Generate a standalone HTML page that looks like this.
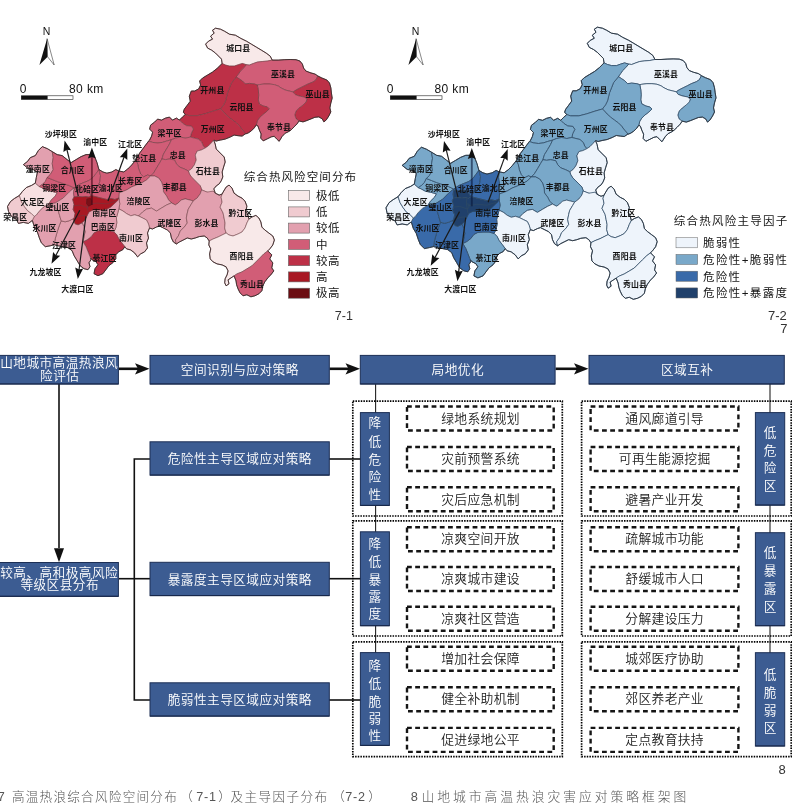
<!DOCTYPE html><html><head><meta charset="utf-8"><title>fig</title><style>
html,body{margin:0;padding:0;background:#fff}svg{display:block}
text{font-family:"Liberation Sans","Noto Sans CJK SC",sans-serif}
.ml{font-size:7.9px;font-weight:700;fill:#111;text-anchor:middle}
.bx{fill:#3c5c92;stroke:#1c2f55;stroke-width:1}
.bt{fill:#fff;font-size:12.7px;font-weight:350;text-anchor:middle}
.dt{fill:#222;font-size:12.8px;font-weight:350;text-anchor:middle}
.db{fill:#fff;stroke:#151515;stroke-width:2.4;stroke-dasharray:4.8 3.4}
.gp{fill:none;stroke:#000;stroke-width:1.7;stroke-dasharray:1.5 1.15}
.ln{stroke:#111;stroke-width:1.6;fill:none}
.lg{font-size:11.5px;fill:#151515;font-weight:400}
</style></head><body>
<svg width="792" height="806" viewBox="0 0 792 806">
<rect width="792" height="806" fill="#fff"/>
<g stroke="#6a3a40" stroke-width="0.55" stroke-linejoin="round">
<polygon points="215.5,28.2 220.5,29.2 224.5,31.2 229.4,34.2 235.4,35.2 240.4,38.1 246.3,41.1 251.3,44.1 256.3,47.1 261.3,50.1 266.2,53.1 270.2,56.1 272.2,60.1 267.2,61.1 262.3,61.5 257.3,62.1 253.3,63.5 249.3,65.1 246.3,64.7 242.4,63.5 238.4,64.7 234.4,66.1 229.4,66.1 225.5,65.1 222.1,63.5 221.5,59.1 218.5,56.1 215.5,53.1 211.5,50.1 207.6,48.1 205.6,44.1 208.6,41.1 212.5,39.1 210.6,36.2 214.1,33.2 212.5,30.2" fill="#f8e9e9"/>
<polygon points="246.3,64.7 249.3,65.1 253.3,63.5 257.3,62.1 262.3,61.5 267.2,61.1 272.2,60.1 278.2,60.1 284.1,59.7 290.1,59.5 296.1,59.7 300.0,61.1 302.4,64.1 303.6,68.1 306.0,71.1 310.0,72.6 314.9,74.0 317.9,76.0 315.9,80.0 313.0,82.0 308.0,84.0 304.0,86.0 300.0,88.0 296.1,90.0 293.1,92.0 289.1,91.0 285.1,90.0 281.1,88.0 278.2,86.0 274.2,84.6 269.2,84.0 264.2,84.0 259.3,84.6 257.3,85.0 254.3,84.0 249.3,83.4 245.4,84.0 242.4,81.0 239.4,79.0 236.4,77.0 235.4,78.0 238.4,74.0 240.4,71.1 243.4,68.1" fill="#d15d77"/>
<polygon points="317.9,76.0 321.9,78.0 326.9,80.0 329.5,83.0 330.9,88.0 331.4,93.0 332.2,98.0 330.9,103.0 329.9,107.9 330.9,111.9 328.9,115.9 326.3,119.9 323.9,121.9 322.3,118.9 318.9,116.9 314.9,117.3 311.0,118.9 307.0,120.5 303.0,121.9 299.0,120.9 296.1,118.9 294.7,114.9 296.1,110.9 299.0,107.9 303.0,105.0 306.0,102.0 307.0,99.0 304.0,97.0 299.0,96.0 295.1,94.6 293.1,92.0 296.1,90.0 300.0,88.0 304.0,86.0 308.0,84.0 313.0,82.0 315.9,80.0" fill="#bd3047"/>
<polygon points="257.3,85.0 259.3,84.6 264.2,84.0 269.2,84.0 274.2,84.6 278.2,86.0 281.1,88.0 285.1,90.0 289.1,91.0 293.1,92.0 295.1,94.6 299.0,96.0 304.0,97.0 307.0,99.0 306.0,102.0 303.0,105.0 299.0,107.9 296.1,110.9 294.7,114.9 296.1,118.9 299.0,120.9 297.0,123.9 294.1,126.9 291.1,129.9 288.1,131.9 285.1,133.3 282.1,136.5 279.2,141.3 276.6,138.9 274.2,136.3 271.2,136.9 267.2,138.9 263.2,140.9 260.7,138.1 261.1,133.9 259.3,129.9 257.9,125.9 256.3,124.9 257.3,120.9 259.3,117.9 262.3,114.9 266.2,111.9 269.2,108.9 267.2,106.9 263.2,106.0 259.3,104.0 258.3,100.0 258.7,95.0 258.3,90.0" fill="#d15d77"/>
<polygon points="235.4,78.0 236.4,77.0 239.4,79.0 242.4,81.0 245.4,84.0 249.3,83.4 254.3,84.0 257.3,85.0 258.3,90.0 258.7,95.0 258.3,100.0 259.3,104.0 263.2,106.0 267.2,106.9 269.2,108.9 266.2,111.9 262.3,114.9 259.3,117.9 257.3,120.9 256.3,124.9 254.3,127.9 251.3,130.9 248.3,132.9 245.7,133.9 242.4,129.9 239.4,125.9 236.4,122.9 232.4,119.9 228.4,116.9 225.1,113.9 222.5,110.9 220.5,108.9 223.5,105.0 225.5,101.0 226.5,97.0 227.5,93.0 229.4,88.0 231.4,83.0" fill="#bd3047"/>
<polygon points="222.1,63.5 225.5,65.1 229.4,66.1 234.4,66.1 238.4,64.7 242.4,63.5 246.3,64.7 243.4,68.1 240.4,71.1 238.4,74.0 235.4,78.0 231.4,83.0 229.4,88.0 227.5,93.0 226.5,97.0 225.5,101.0 223.5,105.0 220.5,108.9 213.1,111.1 205.2,113.7 197.2,115.7 189.3,115.7 185.3,114.5 183.3,112.1 184.3,109.1 187.3,105.2 190.3,101.2 189.3,96.2 191.3,91.0 194.6,91.0 198.6,89.0 200.6,85.0 199.6,81.0 202.6,78.0 207.6,75.0 212.5,72.0 217.5,68.1" fill="#bd3047"/>
<polygon points="220.5,108.9 213.1,111.1 205.2,113.7 197.2,115.7 189.3,115.7 185.3,114.5 182.4,117.1 179.4,120.1 182.4,123.1 186.4,125.7 191.4,126.1 193.4,129.1 191.4,133.1 190.4,137.1 194.3,138.1 198.3,139.1 201.7,142.0 203.3,146.0 205.3,148.0 208.3,146.0 211.3,143.0 213.6,140.1 216.2,141.1 220.2,140.1 225.2,139.1 230.1,137.1 234.1,135.1 238.1,135.7 242.1,136.1 245.6,133.7 242.4,129.9 239.4,125.9 236.4,122.9 232.4,119.9 228.4,116.9 225.1,113.9 222.5,110.9" fill="#bd3047"/>
<polygon points="179.4,120.1 176.5,118.1 172.5,120.1 169.5,117.1 165.5,118.1 161.5,120.1 157.6,119.1 154.6,122.1 150.6,125.1 149.6,129.1 152.6,132.1 151.6,136.1 149.6,140.1 148.6,141.1 152.6,142.4 157.6,143.0 162.5,142.4 166.5,141.1 171.5,139.7 175.5,138.1 180.4,137.1 185.4,138.1 190.4,137.1 191.4,133.1 193.4,129.1 191.4,126.1 186.4,125.7 182.4,123.1" fill="#d15d77"/>
<polygon points="148.6,141.1 152.6,142.4 157.6,143.0 162.5,142.4 166.5,141.1 171.5,139.7 169.5,144.0 166.5,149.0 163.5,154.0 161.9,159.0 159.6,163.0 156.6,168.0 153.6,173.0 150.6,176.0 147.6,175.0 143.6,176.9 140.7,174.0 138.7,169.0 137.7,164.0 135.7,160.0 139.7,153.0 142.7,149.0 145.6,145.0" fill="#d15d77"/>
<polygon points="171.5,139.7 175.5,138.1 180.4,137.1 185.4,138.1 190.4,137.1 194.3,138.1 198.3,139.1 201.7,142.0 203.3,146.0 205.3,148.0 201.3,150.0 197.3,151.0 195.3,155.0 196.3,160.0 194.3,165.0 191.4,169.0 188.4,171.0 184.4,169.0 179.4,167.0 176.5,164.0 174.5,160.0 169.5,159.0 165.5,159.6 161.9,159.0 163.5,154.0 166.5,149.0 169.5,144.0" fill="#d15d77"/>
<polygon points="205.3,148.0 208.3,146.0 211.3,143.0 213.6,140.1 215.2,144.0 216.2,149.0 220.2,153.0 224.2,157.0 225.2,162.0 223.6,167.0 222.2,172.0 222.8,176.9 221.2,180.9 219.2,183.9 216.2,185.9 213.8,188.9 215.2,192.9 213.2,191.5 210.3,192.9 206.3,191.9 201.7,189.9 200.3,185.9 197.3,182.9 194.3,179.9 191.4,176.9 189.4,174.0 188.4,171.0 191.4,169.0 194.3,165.0 196.3,160.0 195.3,155.0 197.3,151.0 201.3,150.0" fill="#f0cbd0"/>
<polygon points="161.9,159.0 165.5,159.6 169.5,159.0 174.5,160.0 176.5,164.0 179.4,167.0 184.4,169.0 188.4,171.0 189.4,174.0 191.4,176.9 194.3,179.9 197.3,182.9 200.3,185.9 201.7,189.9 200.3,193.9 197.3,197.9 193.4,200.9 189.4,199.9 185.4,198.9 181.4,199.9 178.4,202.9 175.5,204.9 171.5,202.9 168.5,199.9 166.5,195.9 163.5,191.9 163.1,186.9 161.5,181.9 158.6,177.9 154.6,176.0 150.6,176.0 153.6,173.0 156.6,168.0 159.6,163.0" fill="#d15d77"/>
<polygon points="118.8,171.0 123.8,172.0 127.7,169.0 131.7,165.0 135.7,160.0 137.7,164.0 138.7,169.0 140.7,174.0 143.6,176.9 147.6,175.0 150.6,176.0 146.6,179.9 141.7,182.9 136.7,184.9 131.7,186.9 126.7,189.9 121.8,191.9 118.8,192.9 117.8,188.9 118.8,183.9 117.8,178.9" fill="#d15d77"/>
<polygon points="150.6,176.0 154.6,176.0 158.6,177.9 161.5,181.9 163.1,186.9 163.5,191.9 166.5,195.9 168.5,199.9 171.5,202.9 171.4,202.9 166.4,205.1 161.4,208.1 156.5,211.1 151.5,208.1 146.5,209.1 142.6,212.0 138.6,216.0 134.7,214.8 130.8,215.8 126.8,213.8 122.8,210.9 118.8,208.9 119.8,203.9 118.8,197.9 118.8,192.9 121.8,191.9 126.7,189.9 131.7,186.9 136.7,184.9 141.7,182.9 146.6,179.9" fill="#e2a0af"/>
<polygon points="138.6,216.0 142.6,212.0 146.5,209.1 151.5,208.1 156.5,211.1 161.4,208.1 166.4,205.1 171.4,202.9 175.4,204.9 178.3,202.9 181.3,199.9 185.3,198.9 189.3,199.9 193.3,200.9 191.3,204.1 188.3,209.1 187.3,213.0 186.3,218.0 187.3,223.0 184.3,227.0 180.3,231.0 178.3,236.0 175.4,240.0 176.4,244.0 173.4,242.0 171.4,238.0 170.4,233.0 167.4,230.0 163.4,228.0 159.5,226.0 156.5,227.0 152.5,229.0 149.5,228.0 148.5,224.0 146.5,220.0 142.6,218.0" fill="#e2a0af"/>
<polygon points="193.3,200.9 197.2,197.9 200.2,193.9 201.6,189.9 207.2,192.1 213.1,191.1 215.1,193.1 219.1,195.1 222.1,194.1 221.1,197.1 222.1,202.1 220.1,207.1 223.1,213.0 224.1,218.0 225.1,223.0 224.7,228.0 226.1,233.0 222.1,235.0 218.1,237.0 213.1,239.0 209.2,241.0 207.2,238.0 204.2,236.0 199.2,236.6 195.2,238.0 191.3,239.0 187.3,238.0 183.3,240.0 179.3,242.0 176.4,244.0 175.4,240.0 178.3,236.0 180.3,231.0 184.3,227.0 187.3,223.0 186.3,218.0 187.3,213.0 188.3,209.1 191.3,204.1" fill="#e2a0af"/>
<polygon points="222.1,194.1 223.1,192.1 226.1,187.1 229.0,185.1 232.0,188.1 234.0,193.1 238.0,196.1 242.0,198.1 245.0,201.1 246.9,206.1 245.9,211.1 247.9,215.0 248.9,219.0 246.9,223.0 245.0,228.0 242.0,232.0 238.0,234.0 233.0,236.0 229.0,235.0 226.1,233.0 224.7,228.0 225.1,223.0 224.1,218.0 223.1,213.0 220.1,207.1 222.1,202.1 221.1,197.1" fill="#f0cbd0"/>
<polygon points="226.1,233.0 229.0,235.0 233.0,236.0 238.0,234.0 242.0,232.0 245.0,228.0 246.9,223.0 248.9,219.0 251.9,217.0 255.9,215.4 258.9,218.0 260.9,222.0 261.9,227.0 264.8,230.0 268.8,233.0 272.8,236.0 274.4,240.0 272.8,245.0 269.8,248.9 267.8,250.9 263.8,253.9 259.9,257.9 255.9,261.9 251.9,265.9 246.9,268.9 242.0,271.9 237.0,273.9 234.0,275.9 231.0,277.9 228.1,279.9 229.0,283.8 226.1,285.8 224.7,282.8 225.1,278.9 227.1,274.9 228.1,270.9 226.1,266.9 222.1,264.9 217.1,263.9 213.1,261.9 210.2,258.9 209.6,253.9 210.8,248.9 208.8,245.0 209.2,241.0 213.1,239.0 218.1,237.0 222.1,235.0" fill="#f8e9e9"/>
<polygon points="267.8,250.9 271.8,254.9 269.8,258.9 272.8,262.9 271.8,267.9 273.8,270.9 270.8,274.9 267.8,277.9 264.8,281.8 262.8,285.8 261.9,290.8 258.9,293.8 254.9,295.8 250.9,296.8 246.9,294.8 243.0,295.8 240.0,292.8 238.0,288.8 236.6,284.8 236.0,280.9 234.0,275.9 237.0,273.9 242.0,271.9 246.9,268.9 251.9,265.9 255.9,261.9 259.9,257.9 263.8,253.9" fill="#d15d77"/>
<polygon points="118.8,208.9 122.8,210.9 126.8,213.8 130.8,215.8 134.7,214.8 138.6,216.0 142.6,218.0 146.5,220.0 148.5,224.0 149.5,228.0 147.5,233.0 148.5,238.0 146.5,243.0 147.5,247.9 144.5,251.9 140.6,253.9 137.6,256.9 134.6,252.9 130.6,249.9 126.6,248.9 124.8,246.7 121.8,242.8 118.8,238.8 116.8,234.8 113.9,231.8 115.8,227.8 116.8,222.8 116.4,217.8 117.8,212.8" fill="#f0cbd0"/>
<polygon points="83.0,241.8 87.0,239.8 91.0,236.8 94.0,232.8 98.0,230.8 102.9,230.4 108.9,230.4 113.9,231.8 116.8,234.8 118.8,238.8 121.8,242.8 124.8,246.7 122.8,249.7 118.8,251.7 115.8,254.7 115.8,258.7 112.9,262.7 108.9,265.7 105.9,269.7 102.9,273.7 98.0,275.7 94.0,273.7 95.0,268.7 98.0,264.7 96.0,261.7 92.0,259.7 90.0,256.7 88.0,251.7 86.0,246.7" fill="#bd3047"/>
<polygon points="82.0,222.8 84.0,226.8 85.0,231.8 84.0,236.8 83.0,241.8 87.0,239.8 91.0,236.8 94.0,232.8 98.0,230.8 102.9,230.4 108.9,230.4 113.9,231.8 115.8,227.8 116.8,222.8 116.4,217.8 117.8,212.8 118.8,208.9 119.8,203.9 118.8,197.9 113.9,203.5 110.9,206.5 106.9,208.5 102.9,209.5 98.0,209.5 93.0,209.5 89.0,211.4 87.0,215.4 85.0,219.4" fill="#e2a0af"/>
<polygon points="54.2,244.8 58.2,245.8 63.2,246.7 68.1,247.7 72.1,250.7 74.1,255.7 77.1,260.7 80.1,265.7 84.0,268.7 88.0,269.7 90.0,266.7 89.0,262.7 91.0,259.7 90.0,256.7 88.0,251.7 86.0,246.7 83.0,241.8 84.0,236.8 85.0,231.8 84.0,226.8 82.0,222.8 78.1,224.8 75.1,223.8 73.1,218.8 69.1,220.8 65.1,221.8 61.2,220.8 59.2,225.8 57.2,231.8 55.2,238.8" fill="#e2a0af"/>
<polygon points="34.3,216.4 36.3,215.0 39.3,211.1 43.3,207.1 48.8,203.9 54.2,206.5 58.2,210.5 59.6,215.4 61.2,220.8 59.2,225.8 57.2,231.8 55.2,238.8 54.2,244.8 50.2,245.8 45.3,246.7 41.3,242.8 39.3,237.8 37.3,231.8 34.3,226.8 32.3,220.4" fill="#e2a0af"/>
<polygon points="19.4,195.5 14.4,198.5 10.5,201.5 7.5,206.5 8.5,211.4 11.5,216.4 16.4,219.4 18.4,223.4 23.4,222.4 28.4,223.4 32.3,220.4 34.3,216.4 31.3,213.4 27.4,210.5 24.4,206.5 21.4,201.5" fill="#f0cbd0"/>
<polygon points="35.3,183.1 39.3,186.5 42.3,187.9 46.3,190.1 51.2,191.1 57.2,192.7 55.2,196.1 51.2,200.1 48.8,203.9 43.3,207.1 39.3,211.1 36.3,215.0 34.3,216.4 31.3,213.4 27.4,210.5 24.4,206.5 21.4,201.5 19.4,195.5 22.4,191.5 26.4,187.5 31.3,185.5" fill="#f6dfe1"/>
<polygon points="23.4,164.6 27.4,161.6 30.3,157.6 35.3,155.6 38.3,150.6 42.3,146.6 47.2,148.6 52.2,151.6 53.2,157.6 52.2,163.6 53.2,169.6 50.2,174.6 47.2,177.5 45.3,181.5 42.3,184.5 39.3,186.5 35.3,183.1 36.3,177.5 37.3,172.6 33.3,169.6 28.4,168.6" fill="#e2a0af"/>
<polygon points="47.2,177.5 52.2,179.5 57.2,181.5 63.2,183.5 69.1,185.5 74.1,187.9 69.1,192.1 63.2,198.1 55.2,203.1 48.8,203.9 51.2,200.1 55.2,196.1 57.2,192.7 51.2,191.1 46.3,190.1 42.3,187.9 39.3,186.5 42.3,184.5 45.3,181.5" fill="#d15d77"/>
<polygon points="52.2,151.6 57.2,154.6 62.2,155.6 67.1,159.6 71.1,162.6 76.1,159.6 81.1,156.6 86.0,154.6 91.0,154.6 95.0,157.6 97.0,162.6 98.9,169.6 96.0,173.6 93.0,177.5 89.0,180.5 84.0,182.5 79.1,184.5 74.1,187.9 69.1,185.5 63.2,183.5 57.2,181.5 52.2,179.5 47.2,177.5 50.2,174.6 53.2,169.6 52.2,163.6 53.2,157.6" fill="#d15d77"/>
<polygon points="74.1,187.9 79.1,184.5 84.0,182.5 89.0,180.5 93.0,177.5 96.0,173.6 98.9,169.6 100.5,175.6 99.9,181.5 98.0,186.5 95.0,189.5 91.0,195.5 89.0,192.5 87.0,189.5 83.0,189.1 79.1,189.9 76.1,188.9 74.1,189.5" fill="#d15d77"/>
<polygon points="98.9,169.6 102.9,172.0 106.9,173.2 111.9,172.0 115.8,169.6 118.8,171.0 118.4,176.5 119.2,181.9 118.2,187.5 119.2,192.5 118.8,197.9 114.9,199.5 110.9,198.5 106.9,199.5 102.9,198.5 98.9,197.5 95.0,196.5 91.0,195.5 95.0,189.5 98.0,186.5 99.9,181.5 100.5,175.6" fill="#d15d77"/>
<polygon points="48.8,203.9 55.2,203.1 63.2,198.1 69.1,192.1 74.1,187.9 74.1,189.5 73.5,193.1 74.1,196.9 72.7,199.5 74.1,204.5 73.1,209.5 75.1,213.4 74.1,218.4 73.1,218.8 69.1,220.8 65.1,221.8 61.2,220.8 59.6,215.4 58.2,210.5 54.2,206.5" fill="#e2a0af"/>
<polygon points="74.1,189.5 76.1,188.9 79.1,189.9 83.0,189.1 87.0,189.5 89.0,192.5 91.0,195.5 89.0,197.1 86.0,196.5 82.0,196.9 78.1,196.5 74.1,196.9 73.5,193.1" fill="#d15d77"/>
<polygon points="74.1,196.9 78.1,196.5 82.0,196.9 86.0,196.5 89.0,197.1 91.0,195.5 95.0,196.5 98.9,197.5 102.9,198.5 106.9,199.5 110.9,198.5 114.9,199.5 118.8,197.9 117.8,200.5 113.9,204.1 110.9,207.1 106.9,209.1 102.9,210.1 98.0,210.1 93.0,210.1 89.0,212.0 87.0,216.0 85.0,220.0 82.0,222.8 78.1,224.8 75.1,223.8 73.1,218.8 74.1,218.4 75.1,213.4 73.1,209.5 74.1,204.5 72.7,199.5" fill="#a81823"/>
<polyline points="73.5,205.9 80.1,205.1 87.0,207.5" fill="none"/>
<polyline points="76.1,217.8 81.1,215.8 86.0,215.4" fill="none"/>
<polyline points="87.0,197.1 86.6,202.5 88.0,211.4" fill="none"/>
<polyline points="88.0,204.5 97.0,203.1 106.9,203.9 115.8,201.1" fill="none"/>
<polyline points="86.6,202.5 89.4,203.1 89.0,206.5 87.0,207.5" fill="none"/>
</g>
<polygon points="7.5,206.5 7.5,206.5 8.5,211.4 8.5,211.4 8.5,211.5 11.5,216.4 11.5,216.4 11.5,216.4 16.4,219.4 16.4,219.4 16.4,219.4 16.4,219.4 16.4,219.5 16.5,219.5 16.5,219.5 18.4,223.4 18.4,223.4 18.4,223.4 23.3,222.4 23.4,222.4 23.4,222.4 23.4,222.4 23.4,222.4 28.4,223.4 28.4,223.4 28.4,223.4 32.0,220.7 32.0,220.7 32.0,220.6 32.1,220.6 32.1,220.6 32.1,220.6 32.2,220.6 32.2,220.6 32.2,220.6 32.3,220.6 32.3,220.6 32.3,220.7 32.3,220.7 32.4,220.7 32.4,220.7 32.4,220.7 32.4,220.7 32.4,220.8 32.5,220.8 32.5,220.8 34.3,226.8 34.3,226.8 34.3,226.8 37.3,231.8 37.3,231.8 37.3,231.8 39.3,237.8 39.3,237.8 41.3,242.8 41.3,242.8 41.3,242.8 45.3,246.7 45.3,246.7 45.3,246.7 50.2,245.8 50.2,245.8 54.1,244.8 54.2,244.8 54.2,244.8 54.2,244.8 54.3,244.8 54.3,244.8 58.2,245.8 58.2,245.8 63.2,246.7 68.1,247.7 68.1,247.7 68.1,247.7 68.1,247.8 68.2,247.8 68.2,247.8 72.0,250.7 72.1,250.7 72.1,250.7 72.1,250.7 72.1,250.8 72.1,250.8 72.1,250.8 74.1,255.7 74.1,255.7 74.1,255.7 77.1,260.7 80.1,265.7 80.1,265.7 80.1,265.7 84.0,268.7 84.0,268.7 84.0,268.7 88.0,269.7 88.0,269.7 88.0,269.7 90.0,266.7 90.0,266.7 90.0,266.7 89.0,262.8 89.0,262.8 89.0,262.8 89.0,262.7 89.0,262.7 89.0,262.7 89.0,262.6 89.1,262.6 89.1,262.6 91.0,259.7 91.0,259.7 91.0,259.7 90.7,258.8 90.7,258.8 90.7,258.8 90.7,258.8 90.7,258.7 90.7,258.7 90.7,258.7 90.7,258.6 90.7,258.6 90.7,258.6 90.8,258.6 90.8,258.5 90.8,258.5 90.8,258.5 90.8,258.5 90.9,258.5 90.9,258.5 90.9,258.5 91.0,258.5 91.0,258.5 91.0,258.5 91.0,258.5 91.1,258.5 91.1,258.5 91.1,258.5 91.2,258.5 91.2,258.5 91.2,258.5 91.2,258.6 91.2,258.6 92.0,259.7 92.0,259.7 92.0,259.7 95.9,261.7 95.9,261.7 95.9,261.7 96.0,261.7 96.0,261.7 96.0,261.8 97.8,264.5 97.8,264.5 97.9,264.6 97.9,264.6 97.9,264.6 97.9,264.7 97.9,264.7 97.9,264.7 97.9,264.7 97.9,264.8 97.9,264.8 97.9,264.8 97.8,264.8 97.8,264.9 95.0,268.7 95.0,268.7 95.0,268.7 94.0,273.7 94.0,273.7 94.0,273.7 97.9,275.7 98.0,275.7 98.0,275.7 102.9,273.7 102.9,273.7 102.9,273.7 108.9,265.7 108.9,265.7 108.9,265.7 108.9,265.7 112.9,262.7 112.9,262.7 112.9,262.7 115.8,258.7 115.8,258.7 115.8,258.7 115.8,254.8 115.8,254.8 115.9,254.8 115.9,254.8 115.9,254.7 115.9,254.7 115.9,254.7 115.9,254.7 115.9,254.6 118.8,251.8 118.8,251.7 118.8,251.7 118.9,251.7 122.8,249.7 122.8,249.7 122.8,249.7 124.6,247.1 124.6,247.1 124.6,247.0 124.6,247.0 124.7,247.0 124.7,247.0 124.7,247.0 124.7,247.0 124.8,247.0 124.8,246.9 124.8,246.9 124.9,246.9 124.9,247.0 124.9,247.0 124.9,247.0 125.0,247.0 125.0,247.0 125.0,247.0 125.0,247.0 125.1,247.1 126.6,248.9 126.6,248.9 126.7,248.9 130.6,249.9 130.6,249.9 130.6,249.9 130.6,250.0 130.7,250.0 134.6,252.9 134.6,252.9 134.6,252.9 134.6,253.0 137.6,256.9 137.6,256.9 137.6,256.9 140.5,254.0 140.6,253.9 140.6,253.9 140.6,253.9 144.5,251.9 144.5,251.9 144.5,251.9 147.5,248.0 147.5,247.9 147.5,247.9 146.5,243.0 146.5,243.0 146.5,243.0 146.5,243.0 146.5,242.9 146.6,242.9 146.6,242.9 148.5,238.0 148.5,238.0 148.5,238.0 147.5,233.1 147.5,233.0 147.5,233.0 147.5,233.0 147.5,233.0 147.5,232.9 147.6,232.9 149.4,228.3 149.4,228.2 149.4,228.2 149.5,228.2 149.5,228.2 149.5,228.1 149.5,228.1 149.5,228.1 149.6,228.1 149.6,228.1 149.6,228.1 149.7,228.1 149.7,228.1 149.7,228.1 149.8,228.1 149.8,228.1 152.5,229.0 152.5,229.0 152.5,229.0 156.5,227.0 156.5,227.0 159.3,226.0 159.4,226.0 159.4,226.0 159.4,226.0 159.5,226.0 159.5,226.0 159.5,226.0 159.5,226.1 159.6,226.1 163.4,228.0 167.4,230.0 167.4,230.0 167.4,230.0 167.4,230.0 170.3,232.9 170.3,232.9 170.4,233.0 170.4,233.0 170.4,233.0 170.4,233.0 170.4,233.1 171.4,238.0 171.4,238.0 171.4,238.0 173.4,242.0 173.4,242.0 173.4,242.0 176.4,244.0 176.4,244.0 176.4,244.0 176.4,244.0 176.4,244.0 176.4,244.0 179.3,242.0 179.4,242.0 187.2,238.0 187.2,238.0 187.2,238.0 187.3,238.0 187.3,238.0 187.3,238.0 187.4,238.0 187.4,238.0 191.3,239.0 191.3,239.0 191.3,239.0 195.2,238.0 195.3,238.0 199.2,236.6 199.2,236.6 199.3,236.6 204.1,236.0 204.1,236.0 204.1,236.0 204.2,236.0 204.2,236.0 204.2,236.0 204.3,236.0 204.3,236.0 207.1,237.9 207.1,238.0 207.2,238.0 207.2,238.0 207.2,238.0 209.1,240.9 209.1,240.9 209.1,240.9 209.1,241.0 209.1,241.0 209.2,241.0 209.2,241.0 209.2,241.1 208.8,244.9 208.8,245.0 208.8,245.0 210.7,248.8 210.7,248.9 210.7,248.9 210.7,248.9 210.7,249.0 210.7,249.0 210.7,249.0 210.7,249.0 209.6,253.9 209.6,253.9 209.6,253.9 210.2,258.9 210.2,258.9 210.2,258.9 213.1,261.9 213.1,261.9 213.1,261.9 217.1,263.9 217.1,263.9 217.1,263.9 222.0,264.9 222.1,264.9 222.1,264.9 222.1,264.9 226.0,266.8 226.0,266.9 226.0,266.9 226.0,266.9 226.1,266.9 226.1,266.9 226.1,267.0 226.1,267.0 228.0,270.8 228.0,270.8 228.0,270.8 228.0,270.9 228.0,270.9 228.0,270.9 228.0,271.0 228.0,271.0 227.1,274.8 227.1,274.9 227.0,274.9 225.1,278.8 225.1,278.9 225.1,278.9 224.7,282.8 224.7,282.8 224.7,282.9 226.1,285.8 226.1,285.8 226.1,285.8 229.0,283.8 229.0,283.8 229.0,283.8 228.1,280.1 228.1,280.0 228.1,280.0 228.1,280.0 228.1,279.9 228.1,279.9 228.1,279.9 228.1,279.8 228.1,279.8 228.2,279.8 228.2,279.8 228.2,279.8 228.2,279.7 231.0,277.9 233.7,276.1 233.7,276.1 233.8,276.0 233.8,276.0 233.8,276.0 233.8,276.0 233.9,276.0 233.9,276.0 233.9,276.0 234.0,276.0 234.0,276.0 234.0,276.1 234.0,276.1 234.1,276.1 234.1,276.1 234.1,276.1 234.1,276.2 234.1,276.2 234.2,276.2 236.0,280.8 236.0,280.9 236.0,280.9 236.6,284.8 236.6,284.8 236.6,284.8 238.0,288.8 238.0,288.8 240.0,292.8 240.0,292.8 240.0,292.8 243.0,295.8 243.0,295.8 243.0,295.8 246.8,294.8 246.9,294.8 246.9,294.8 246.9,294.8 247.0,294.8 247.0,294.8 247.0,294.8 247.0,294.9 250.9,296.8 250.9,296.8 250.9,296.8 254.9,295.8 254.9,295.8 254.9,295.8 258.9,293.8 258.9,293.8 258.9,293.8 261.8,290.8 261.9,290.8 261.9,290.8 262.8,285.9 262.8,285.8 262.9,285.8 262.9,285.8 264.8,281.9 264.8,281.8 264.9,281.8 267.8,277.9 267.8,277.8 270.8,274.9 270.8,274.9 273.8,270.9 273.8,270.9 273.8,270.9 271.9,268.0 271.9,268.0 271.8,267.9 271.8,267.9 271.8,267.9 271.8,267.9 271.8,267.8 271.8,267.8 271.8,267.8 272.8,262.9 272.8,262.9 272.8,262.9 269.9,259.1 269.9,259.0 269.9,259.0 269.9,259.0 269.9,259.0 269.9,258.9 269.9,258.9 269.9,258.9 269.9,258.8 269.9,258.8 269.9,258.8 269.9,258.7 271.8,254.9 271.8,254.9 271.8,254.9 268.0,251.1 268.0,251.1 268.0,251.1 268.0,251.1 268.0,251.1 268.0,251.0 267.9,251.0 267.9,251.0 267.9,250.9 267.9,250.9 267.9,250.9 268.0,250.8 268.0,250.8 268.0,250.8 268.0,250.8 268.0,250.7 268.0,250.7 269.8,248.9 269.8,248.9 272.8,245.0 272.8,245.0 272.8,244.9 274.4,240.0 274.4,240.0 274.4,240.0 272.8,236.0 272.8,236.0 272.8,236.0 268.8,233.0 264.9,230.0 264.8,230.0 261.9,227.1 261.9,227.0 261.9,227.0 261.9,227.0 261.9,227.0 261.8,226.9 261.8,226.9 260.9,222.0 260.9,222.0 260.9,222.0 258.9,218.0 258.9,218.0 258.9,218.0 255.9,215.4 255.9,215.4 255.9,215.4 251.9,217.0 251.9,217.0 251.9,217.0 249.3,218.8 249.3,218.8 249.2,218.8 249.2,218.8 249.2,218.8 249.2,218.8 249.1,218.8 249.1,218.8 249.1,218.8 249.0,218.8 249.0,218.8 249.0,218.8 249.0,218.8 248.9,218.8 248.9,218.8 248.9,218.7 248.9,218.7 248.9,218.7 248.8,218.7 248.8,218.6 248.8,218.6 247.9,215.0 247.9,215.0 247.9,215.0 246.0,211.1 246.0,211.1 246.0,211.1 246.0,211.1 246.0,211.0 246.0,211.0 246.0,211.0 246.0,210.9 246.9,206.1 246.9,206.1 246.9,206.1 245.0,201.1 245.0,201.1 244.9,201.1 242.0,198.1 242.0,198.1 242.0,198.1 238.0,196.1 238.0,196.1 238.0,196.1 234.1,193.2 234.1,193.1 234.0,193.1 234.0,193.1 234.0,193.1 234.0,193.0 234.0,193.0 232.0,188.1 232.0,188.1 232.0,188.1 229.1,185.1 229.0,185.1 229.0,185.1 226.1,187.1 226.1,187.1 226.1,187.1 223.1,192.1 223.1,192.1 222.1,194.0 222.1,194.0 222.1,194.0 222.1,194.1 222.1,194.1 222.0,194.1 222.0,194.1 222.0,194.1 222.0,194.1 219.2,195.1 219.2,195.1 219.2,195.1 219.1,195.1 219.1,195.1 219.1,195.1 219.0,195.1 219.0,195.1 219.0,195.0 215.4,193.2 215.4,193.2 215.3,193.2 215.3,193.2 215.3,193.2 215.3,193.1 215.3,193.1 215.2,193.1 215.2,193.1 215.2,193.0 215.2,193.0 215.2,193.0 215.2,192.9 215.2,192.9 215.2,192.9 215.2,192.9 213.9,189.1 213.9,189.0 213.9,189.0 213.9,189.0 213.9,189.0 213.9,188.9 213.9,188.9 213.9,188.9 213.9,188.8 213.9,188.8 213.9,188.8 216.2,186.0 216.2,185.9 216.2,185.9 216.3,185.9 219.2,183.9 219.2,183.9 219.2,183.9 221.2,180.9 221.2,180.9 221.2,180.9 222.8,177.0 222.8,176.9 222.8,176.9 222.2,172.0 222.2,172.0 222.2,172.0 222.2,171.9 222.2,171.9 223.6,167.0 223.6,167.0 225.2,162.0 225.2,162.0 225.2,162.0 224.2,157.0 224.2,157.0 224.2,157.0 220.2,153.0 216.3,149.1 216.3,149.1 216.2,149.0 216.2,149.0 216.2,149.0 216.2,149.0 216.2,148.9 215.2,144.0 215.2,144.0 215.2,144.0 213.9,140.7 213.9,140.7 213.9,140.6 213.9,140.6 213.9,140.6 213.9,140.6 213.9,140.5 213.9,140.5 213.9,140.5 213.9,140.4 213.9,140.4 213.9,140.4 214.0,140.4 214.0,140.4 214.0,140.3 214.0,140.3 214.1,140.3 214.1,140.3 214.1,140.3 214.1,140.3 214.2,140.3 214.2,140.3 214.2,140.3 214.3,140.3 214.3,140.3 216.2,141.0 216.2,141.1 216.2,141.0 220.2,140.1 220.2,140.1 225.2,139.1 225.2,139.1 225.2,139.1 230.1,137.1 230.1,137.1 234.0,135.1 234.1,135.1 234.1,135.1 234.1,135.1 234.1,135.1 234.2,135.1 234.2,135.1 238.1,135.7 238.1,135.7 242.1,136.1 242.1,136.1 242.1,136.1 245.4,133.8 245.4,133.8 245.4,133.8 245.5,133.8 245.5,133.8 245.5,133.8 245.6,133.8 245.6,133.8 245.6,133.8 245.6,133.8 245.7,133.8 245.7,133.8 245.7,133.9 245.7,133.9 245.7,133.9 245.8,133.9 248.3,132.9 248.3,132.9 248.3,132.9 251.3,130.9 251.3,130.9 251.3,130.9 254.3,127.9 254.3,127.9 254.3,127.9 256.1,125.1 256.1,125.1 256.2,125.1 256.2,125.1 256.2,125.1 256.2,125.0 256.3,125.0 256.3,125.0 256.3,125.0 256.3,125.0 256.4,125.0 256.4,125.0 256.4,125.0 256.5,125.0 256.5,125.0 256.5,125.0 256.5,125.1 257.8,125.8 257.8,125.9 257.8,125.9 257.9,125.9 257.9,125.9 257.9,125.9 257.9,126.0 257.9,126.0 259.3,129.9 259.3,129.9 261.0,133.8 261.0,133.8 261.0,133.9 261.1,133.9 261.1,133.9 261.1,134.0 260.7,138.1 260.7,138.1 260.7,138.1 263.2,140.8 263.2,140.9 263.3,140.8 267.2,138.9 271.2,136.9 271.2,136.9 271.2,136.9 271.2,136.9 274.0,136.3 274.0,136.3 274.1,136.3 274.1,136.3 274.1,136.3 274.2,136.3 274.2,136.3 274.2,136.3 274.3,136.3 274.3,136.4 274.3,136.4 276.6,138.9 276.6,138.9 279.1,141.2 279.2,141.3 279.2,141.2 282.1,136.5 282.1,136.5 282.2,136.4 285.1,133.3 285.1,133.3 285.1,133.3 285.1,133.3 285.2,133.2 288.1,131.9 288.1,131.9 288.1,131.9 291.1,129.9 291.1,129.9 291.1,129.9 294.1,126.9 297.0,123.9 297.0,123.9 297.1,123.9 298.9,121.1 298.9,121.1 299.0,121.0 299.0,121.0 299.0,121.0 299.0,121.0 299.0,121.0 299.1,121.0 299.1,121.0 299.1,121.0 299.2,121.0 299.2,121.0 299.2,121.0 299.2,121.0 303.0,121.9 303.0,121.9 303.0,121.9 307.0,120.5 307.0,120.5 314.9,117.3 314.9,117.3 315.0,117.3 315.0,117.3 318.8,116.9 318.9,116.9 318.9,116.9 318.9,116.9 318.9,116.9 319.0,117.0 319.0,117.0 322.2,118.9 322.3,118.9 322.3,118.9 322.3,118.9 322.3,118.9 322.3,119.0 322.3,119.0 323.9,121.9 323.9,121.9 323.9,121.9 326.3,119.9 326.3,119.9 326.3,119.9 328.9,115.9 328.9,115.9 330.8,111.9 330.9,111.9 330.8,111.9 329.9,108.0 329.9,108.0 329.9,107.9 329.9,107.9 329.9,107.9 330.8,103.0 330.9,102.9 332.2,98.0 332.2,98.0 332.2,98.0 331.4,93.0 331.4,93.0 330.9,88.0 330.9,88.0 330.9,88.0 329.5,83.0 329.5,83.0 329.5,83.0 326.9,80.0 326.9,80.0 326.9,80.0 321.9,78.0 321.9,78.0 317.9,76.0 317.9,76.0 315.0,74.0 314.9,74.0 314.9,74.0 310.0,72.7 310.0,72.6 306.1,71.1 306.0,71.1 306.0,71.1 306.0,71.0 306.0,71.0 305.9,71.0 303.6,68.1 303.6,68.1 303.6,68.1 303.6,68.0 303.6,68.0 302.4,64.1 302.4,64.1 302.4,64.1 300.0,61.1 300.0,61.1 300.0,61.1 296.1,59.7 296.1,59.7 296.0,59.7 290.1,59.5 290.1,59.5 284.1,59.7 284.1,59.7 278.2,60.1 278.1,60.1 272.4,60.1 272.3,60.1 272.3,60.1 272.3,60.1 272.3,60.1 272.2,60.0 272.2,60.0 272.2,60.0 272.2,60.0 272.1,60.0 272.1,59.9 272.1,59.9 270.2,56.1 270.2,56.1 270.2,56.1 266.2,53.1 266.2,53.1 261.3,50.1 256.3,47.1 251.3,44.1 246.4,41.1 246.3,41.1 240.4,38.2 240.4,38.1 235.4,35.2 235.4,35.2 235.4,35.2 229.5,34.2 229.5,34.2 229.4,34.2 229.4,34.1 229.4,34.1 224.5,31.2 224.5,31.2 220.5,29.2 220.5,29.2 220.5,29.2 215.5,28.2 215.5,28.2 215.5,28.2 212.5,30.2 212.5,30.2 212.5,30.2 214.0,32.9 214.0,33.0 214.0,33.0 214.0,33.0 214.1,33.1 214.1,33.1 214.1,33.1 214.0,33.1 214.0,33.2 214.0,33.2 214.0,33.2 214.0,33.3 214.0,33.3 214.0,33.3 213.9,33.3 210.6,36.1 210.6,36.2 210.6,36.2 212.4,38.9 212.4,38.9 212.4,38.9 212.4,38.9 212.4,39.0 212.4,39.0 212.4,39.0 212.4,39.1 212.4,39.1 212.4,39.1 212.4,39.1 212.4,39.2 212.4,39.2 212.3,39.2 212.3,39.2 212.3,39.3 212.3,39.3 212.2,39.3 208.6,41.1 208.6,41.1 208.6,41.1 205.6,44.1 205.6,44.1 205.6,44.1 207.6,48.1 207.6,48.1 207.6,48.1 211.5,50.1 211.5,50.1 211.6,50.1 215.5,53.1 215.5,53.1 221.4,59.0 221.4,59.0 221.5,59.1 221.5,59.1 221.5,59.1 221.5,59.1 221.5,59.2 221.5,59.2 222.1,63.3 222.1,63.4 222.1,63.4 222.1,63.4 222.1,63.4 222.0,63.5 222.0,63.5 222.0,63.5 222.0,63.6 222.0,63.6 217.5,68.0 217.5,68.1 212.6,72.0 212.5,72.1 207.6,75.0 202.6,78.0 202.6,78.0 202.6,78.0 199.6,81.0 199.6,81.0 199.6,81.0 200.6,84.9 200.6,84.9 200.6,85.0 200.6,85.0 200.6,85.0 200.6,85.1 200.6,85.1 200.6,85.1 198.7,88.9 198.7,88.9 198.6,89.0 198.6,89.0 198.6,89.0 198.6,89.0 198.6,89.0 198.5,89.0 194.7,91.0 194.7,91.0 194.7,91.0 194.6,91.0 194.6,91.0 194.6,91.0 191.3,91.0 191.3,91.0 191.3,91.0 189.3,96.2 189.3,96.2 189.3,96.2 190.2,101.0 190.3,101.1 190.3,101.1 190.3,101.1 190.2,101.1 190.2,101.2 190.2,101.2 190.2,101.2 190.2,101.2 190.2,101.3 187.3,105.2 184.3,109.1 184.3,109.1 184.3,109.2 183.3,112.1 183.3,112.1 183.3,112.1 185.1,114.3 185.1,114.3 185.1,114.4 185.2,114.4 185.2,114.4 185.2,114.4 185.2,114.5 185.2,114.5 185.2,114.5 185.2,114.5 185.2,114.6 185.2,114.6 185.2,114.6 185.1,114.7 185.1,114.7 185.1,114.7 185.1,114.7 182.4,117.1 182.4,117.1 179.6,119.9 179.6,120.0 179.6,120.0 179.5,120.0 179.5,120.0 179.5,120.0 179.5,120.0 179.4,120.0 179.4,120.0 179.4,120.0 179.3,120.0 179.3,120.0 179.3,120.0 179.3,120.0 179.2,120.0 176.5,118.1 176.5,118.1 176.4,118.1 172.7,120.0 172.6,120.0 172.6,120.0 172.6,120.0 172.6,120.0 172.5,120.0 172.5,120.0 172.5,120.0 172.4,120.0 172.4,120.0 172.4,120.0 172.4,120.0 172.3,120.0 172.3,120.0 169.5,117.1 169.5,117.1 169.5,117.1 165.5,118.1 165.5,118.1 165.5,118.1 161.6,120.1 161.6,120.1 161.6,120.1 161.6,120.1 161.5,120.1 161.5,120.1 161.5,120.1 161.4,120.1 157.6,119.1 157.6,119.1 157.6,119.1 154.6,122.1 154.6,122.1 150.6,125.1 150.6,125.1 150.6,125.1 149.6,129.1 149.6,129.1 149.6,129.1 152.5,132.0 152.5,132.0 152.5,132.0 152.5,132.0 152.5,132.1 152.5,132.1 152.6,132.1 152.6,132.1 152.6,132.2 152.6,132.2 152.6,132.2 151.6,136.0 151.6,136.1 151.6,136.1 149.6,140.0 149.6,140.0 149.6,140.1 149.6,140.1 148.6,141.0 148.6,141.1 148.6,141.1 148.6,141.1 142.7,149.0 139.7,153.0 139.7,153.0 135.7,160.0 135.7,160.0 135.7,160.0 131.7,165.0 131.7,165.0 127.8,169.0 127.7,169.0 123.9,171.9 123.8,171.9 123.8,171.9 123.8,171.9 123.8,171.9 123.7,171.9 123.7,171.9 123.7,171.9 123.7,171.9 123.6,171.9 118.9,171.0 118.9,171.0 118.8,171.0 115.9,169.6 115.8,169.6 115.8,169.6 111.9,171.9 111.9,172.0 111.9,172.0 111.8,172.0 107.0,173.1 106.9,173.1 106.9,173.1 106.9,173.1 106.9,173.1 106.8,173.1 103.0,172.0 102.9,172.0 102.9,172.0 102.9,171.9 99.0,169.6 99.0,169.6 99.0,169.6 99.0,169.6 99.0,169.6 98.9,169.5 98.9,169.5 98.9,169.5 98.9,169.5 97.0,162.6 97.0,162.6 95.0,157.6 95.0,157.6 95.0,157.6 91.0,154.6 91.0,154.6 91.0,154.6 86.0,154.6 86.0,154.6 86.0,154.6 81.1,156.6 81.1,156.6 81.0,156.6 76.1,159.6 71.3,162.5 71.3,162.5 71.2,162.5 71.2,162.5 71.2,162.5 71.1,162.5 71.1,162.5 71.1,162.5 71.1,162.5 71.0,162.5 71.0,162.5 71.0,162.5 70.9,162.5 67.1,159.6 67.1,159.6 62.2,155.6 62.2,155.6 62.2,155.6 57.2,154.6 57.2,154.6 57.2,154.6 57.2,154.6 57.1,154.6 52.2,151.6 47.3,148.6 47.2,148.6 47.2,148.6 42.3,146.6 42.3,146.6 42.3,146.6 38.3,150.6 38.3,150.6 38.3,150.6 35.4,155.5 35.4,155.5 35.3,155.6 35.3,155.6 35.3,155.6 35.3,155.6 35.2,155.6 35.2,155.6 30.4,157.6 30.3,157.6 30.3,157.6 27.4,161.6 27.4,161.6 27.4,161.6 27.3,161.6 23.4,164.6 23.4,164.6 23.4,164.6 28.4,168.6 28.4,168.6 28.4,168.6 33.3,169.6 33.3,169.6 33.3,169.6 33.3,169.6 33.4,169.6 33.4,169.6 37.2,172.4 37.2,172.5 37.2,172.5 37.2,172.5 37.2,172.5 37.2,172.6 37.3,172.6 37.3,172.6 37.3,172.7 37.3,172.7 37.3,172.7 37.3,172.7 36.3,177.5 36.3,177.5 35.3,183.0 35.3,183.0 35.3,183.1 35.3,183.1 35.3,183.1 35.3,183.1 35.3,183.1 35.2,183.2 35.2,183.2 35.2,183.2 31.4,185.5 31.3,185.5 31.3,185.5 26.4,187.5 26.4,187.5 26.4,187.5 22.4,191.5 22.4,191.5 19.4,195.4 19.4,195.5 19.4,195.5 19.4,195.5 19.4,195.5 14.4,198.5 14.4,198.5 10.5,201.5 10.5,201.5 10.5,201.5 7.5,206.5 7.5,206.5" fill="none" stroke="#3b2a2a" stroke-width="0.9" stroke-linejoin="round"/>
<polygon points="86.8,199 90.5,198.3 92,201 91.3,205 88.5,206.2 86.5,203.5" fill="#7a1018" stroke="#5a0a10" stroke-width="0.4"/>
<g stroke="#2e4a64" stroke-width="0.75" stroke-linejoin="round">
<polygon points="597.4,27.2 602.4,28.2 606.5,30.2 611.5,33.2 617.6,34.2 622.6,37.3 628.7,40.3 633.7,43.3 638.8,46.4 643.8,49.4 648.9,52.4 652.9,55.5 654.9,59.5 649.9,60.5 644.8,60.9 639.8,61.5 635.8,62.9 631.7,64.5 628.7,64.1 624.6,62.9 620.6,64.1 616.6,65.6 611.5,65.6 607.5,64.5 604.0,62.9 603.4,58.5 600.4,55.5 597.4,52.4 593.3,49.4 589.3,47.4 587.3,43.3 590.3,40.3 594.3,38.3 592.3,35.3 596.0,32.2 594.3,29.2" fill="#eef4fb"/>
<polygon points="628.7,64.1 631.7,64.5 635.8,62.9 639.8,61.5 644.8,60.9 649.9,60.5 654.9,59.5 661.0,59.5 667.1,59.1 673.1,58.9 679.2,59.1 683.2,60.5 685.7,63.5 686.9,67.6 689.3,70.6 693.3,72.2 698.4,73.6 701.4,75.7 699.4,79.7 696.4,81.7 691.3,83.7 687.3,85.8 683.2,87.8 679.2,89.8 676.2,91.8 672.1,90.8 668.1,89.8 664.0,87.8 661.0,85.8 657.0,84.3 651.9,83.7 646.9,83.7 641.8,84.3 639.8,84.7 636.8,83.7 631.7,83.1 627.7,83.7 624.6,80.7 621.6,78.7 618.6,76.7 617.6,77.7 620.6,73.6 622.6,70.6 625.7,67.6" fill="#eef4fb"/>
<polygon points="701.4,75.7 705.5,77.7 710.5,79.7 713.1,82.7 714.5,87.8 715.2,92.8 716.0,97.9 714.5,102.9 713.5,108.0 714.5,112.0 712.5,116.1 709.9,120.1 707.5,122.1 705.9,119.1 702.4,117.1 698.4,117.5 694.3,119.1 690.3,120.7 686.3,122.1 682.2,121.1 679.2,119.1 677.8,115.1 679.2,111.0 682.2,108.0 686.3,104.9 689.3,101.9 690.3,98.9 687.3,96.9 682.2,95.9 678.2,94.4 676.2,91.8 679.2,89.8 683.2,87.8 687.3,85.8 691.3,83.7 696.4,81.7 699.4,79.7" fill="#79a8c9"/>
<polygon points="639.8,84.7 641.8,84.3 646.9,83.7 651.9,83.7 657.0,84.3 661.0,85.8 664.0,87.8 668.1,89.8 672.1,90.8 676.2,91.8 678.2,94.4 682.2,95.9 687.3,96.9 690.3,98.9 689.3,101.9 686.3,104.9 682.2,108.0 679.2,111.0 677.8,115.1 679.2,119.1 682.2,121.1 680.2,124.1 677.2,127.2 674.1,130.2 671.1,132.2 668.1,133.6 665.1,136.9 662.0,141.7 659.4,139.3 657.0,136.7 653.9,137.3 649.9,139.3 645.9,141.3 643.2,138.5 643.6,134.2 641.8,130.2 640.4,126.2 638.8,125.2 639.8,121.1 641.8,118.1 644.8,115.1 648.9,112.0 651.9,109.0 649.9,107.0 645.9,106.0 641.8,103.9 640.8,99.9 641.2,94.8 640.8,89.8" fill="#eef4fb"/>
<polygon points="617.6,77.7 618.6,76.7 621.6,78.7 624.6,80.7 627.7,83.7 631.7,83.1 636.8,83.7 639.8,84.7 640.8,89.8 641.2,94.8 640.8,99.9 641.8,103.9 645.9,106.0 649.9,107.0 651.9,109.0 648.9,112.0 644.8,115.1 641.8,118.1 639.8,121.1 638.8,125.2 636.8,128.2 633.7,131.2 630.7,133.2 628.1,134.2 624.6,130.2 621.6,126.2 618.6,123.1 614.5,120.1 610.5,117.1 607.1,114.0 604.4,111.0 602.4,109.0 605.5,104.9 607.5,100.9 608.5,96.9 609.5,92.8 611.5,87.8 613.5,82.7" fill="#79a8c9"/>
<polygon points="604.0,62.9 607.5,64.5 611.5,65.6 616.6,65.6 620.6,64.1 624.6,62.9 628.7,64.1 625.7,67.6 622.6,70.6 620.6,73.6 617.6,77.7 613.5,82.7 611.5,87.8 609.5,92.8 608.5,96.9 607.5,100.9 605.5,104.9 602.4,109.0 594.9,111.2 586.9,113.8 578.8,115.9 570.7,115.9 566.7,114.6 564.6,112.2 565.7,109.2 568.7,105.2 571.7,101.1 570.7,96.1 572.7,90.8 576.2,90.8 580.2,88.8 582.2,84.7 581.2,80.7 584.2,77.7 589.3,74.6 594.3,71.6 599.4,67.6" fill="#79a8c9"/>
<polygon points="602.4,109.0 594.9,111.2 586.9,113.8 578.8,115.9 570.7,115.9 566.7,114.6 563.7,117.3 560.7,120.3 563.7,123.3 567.8,126.0 572.8,126.4 574.8,129.4 572.8,133.4 571.8,137.5 575.9,138.5 579.9,139.5 583.3,142.5 584.9,146.6 587.0,148.6 590.0,146.6 593.0,143.5 595.5,140.5 598.1,141.5 602.1,140.5 607.2,139.5 612.2,137.5 616.3,135.5 620.3,136.1 624.3,136.5 628.0,134.0 624.6,130.2 621.6,126.2 618.6,123.1 614.5,120.1 610.5,117.1 607.1,114.0 604.4,111.0" fill="#79a8c9"/>
<polygon points="560.7,120.3 557.7,118.3 553.6,120.3 550.6,117.3 546.6,118.3 542.5,120.3 538.5,119.3 535.5,122.3 531.4,125.4 530.4,129.4 533.4,132.4 532.4,136.5 530.4,140.5 529.4,141.5 533.4,142.9 538.5,143.5 543.5,142.9 547.6,141.5 552.6,140.1 556.7,138.5 561.7,137.5 566.8,138.5 571.8,137.5 572.8,133.4 574.8,129.4 572.8,126.4 567.8,126.0 563.7,123.3" fill="#79a8c9"/>
<polygon points="529.4,141.5 533.4,142.9 538.5,143.5 543.5,142.9 547.6,141.5 552.6,140.1 550.6,144.5 547.6,149.6 544.5,154.6 542.9,159.7 540.5,163.7 537.5,168.8 534.4,173.8 531.4,176.9 528.4,175.9 524.3,177.9 521.3,174.8 519.3,169.8 518.3,164.7 516.3,160.7 520.3,153.6 523.3,149.6 526.4,145.6" fill="#79a8c9"/>
<polygon points="552.6,140.1 556.7,138.5 561.7,137.5 566.8,138.5 571.8,137.5 575.9,138.5 579.9,139.5 583.3,142.5 584.9,146.6 587.0,148.6 582.9,150.6 578.9,151.6 576.9,155.7 577.9,160.7 575.9,165.8 572.8,169.8 569.8,171.8 565.8,169.8 560.7,167.8 557.7,164.7 555.7,160.7 550.6,159.7 546.6,160.3 542.9,159.7 544.5,154.6 547.6,149.6 550.6,144.5" fill="#79a8c9"/>
<polygon points="587.0,148.6 590.0,146.6 593.0,143.5 595.5,140.5 597.1,144.5 598.1,149.6 602.1,153.6 606.2,157.7 607.2,162.7 605.6,167.8 604.1,172.8 604.7,177.9 603.1,181.9 601.1,184.9 598.1,187.0 595.7,190.0 597.1,194.0 595.1,192.6 592.0,194.0 588.0,193.0 583.3,191.0 581.9,187.0 578.9,183.9 575.9,180.9 572.8,177.9 570.8,174.8 569.8,171.8 572.8,169.8 575.9,165.8 577.9,160.7 576.9,155.7 578.9,151.6 582.9,150.6" fill="#eef4fb"/>
<polygon points="542.9,159.7 546.6,160.3 550.6,159.7 555.7,160.7 557.7,164.7 560.7,167.8 565.8,169.8 569.8,171.8 570.8,174.8 572.8,177.9 575.9,180.9 578.9,183.9 581.9,187.0 583.3,191.0 581.9,195.1 578.9,199.1 574.8,202.1 570.8,201.1 566.8,200.1 562.7,201.1 559.7,204.1 556.7,206.2 552.6,204.1 549.6,201.1 547.6,197.1 544.5,193.0 544.1,188.0 542.5,182.9 539.5,178.9 535.5,176.9 531.4,176.9 534.4,173.8 537.5,168.8 540.5,163.7" fill="#79a8c9"/>
<polygon points="499.1,171.8 504.1,172.8 508.2,169.8 512.2,165.8 516.3,160.7 518.3,164.7 519.3,169.8 521.3,174.8 524.3,177.9 528.4,175.9 531.4,176.9 527.4,180.9 522.3,183.9 517.3,186.0 512.2,188.0 507.2,191.0 502.1,193.0 499.1,194.0 498.1,190.0 499.1,184.9 498.1,179.9" fill="#79a8c9"/>
<polygon points="531.4,176.9 535.5,176.9 539.5,178.9 542.5,182.9 544.1,188.0 544.5,193.0 547.6,197.1 549.6,201.1 552.6,204.1 552.5,204.1 547.5,206.4 542.4,209.4 537.4,212.4 532.3,209.4 527.3,210.4 523.2,213.4 519.2,217.5 515.3,216.3 511.3,217.3 507.2,215.3 503.2,212.2 499.1,210.2 500.1,205.2 499.1,199.1 499.1,194.0 502.1,193.0 507.2,191.0 512.2,188.0 517.3,186.0 522.3,183.9 527.4,180.9" fill="#79a8c9"/>
<polygon points="519.2,217.5 523.2,213.4 527.3,210.4 532.3,209.4 537.4,212.4 542.4,209.4 547.5,206.4 552.5,204.1 556.6,206.2 559.6,204.1 562.6,201.1 566.7,200.1 570.7,201.1 574.7,202.1 572.7,205.4 569.7,210.4 568.7,214.4 567.7,219.5 568.7,224.5 565.7,228.6 561.6,232.6 559.6,237.7 556.6,241.7 557.6,245.8 554.5,243.7 552.5,239.7 551.5,234.6 548.5,231.6 544.4,229.6 540.4,227.6 537.4,228.6 533.3,230.6 530.3,229.6 529.3,225.6 527.3,221.5 523.2,219.5" fill="#eef4fb"/>
<polygon points="574.7,202.1 578.8,199.1 581.8,195.1 583.2,191.0 588.9,193.2 594.9,192.2 597.0,194.2 601.0,196.3 604.0,195.3 603.0,198.3 604.0,203.3 602.0,208.4 605.1,214.4 606.1,219.5 607.1,224.5 606.7,229.6 608.1,234.6 604.0,236.7 600.0,238.7 594.9,240.7 590.9,242.7 588.9,239.7 585.9,237.7 580.8,238.3 576.8,239.7 572.7,240.7 568.7,239.7 564.6,241.7 560.6,243.7 557.6,245.8 556.6,241.7 559.6,237.7 561.6,232.6 565.7,228.6 568.7,224.5 567.7,219.5 568.7,214.4 569.7,210.4 572.7,205.4" fill="#eef4fb"/>
<polygon points="604.0,195.3 605.1,193.2 608.1,188.2 611.1,186.2 614.1,189.2 616.2,194.2 620.2,197.3 624.2,199.3 627.3,202.3 629.3,207.4 628.3,212.4 630.3,216.5 631.3,220.5 629.3,224.5 627.3,229.6 624.2,233.6 620.2,235.7 615.2,237.7 611.1,236.7 608.1,234.6 606.7,229.6 607.1,224.5 606.1,219.5 605.1,214.4 602.0,208.4 604.0,203.3 603.0,198.3" fill="#eef4fb"/>
<polygon points="608.1,234.6 611.1,236.7 615.2,237.7 620.2,235.7 624.2,233.6 627.3,229.6 629.3,224.5 631.3,220.5 634.3,218.5 638.4,216.9 641.4,219.5 643.4,223.5 644.4,228.6 647.5,231.6 651.5,234.6 655.6,237.7 657.2,241.7 655.6,246.8 652.5,250.8 650.5,252.8 646.5,255.9 642.4,259.9 638.4,263.9 634.3,268.0 629.3,271.0 624.2,274.0 619.2,276.1 616.2,278.1 613.1,280.1 610.1,282.1 611.1,286.2 608.1,288.2 606.7,285.2 607.1,281.1 609.1,277.1 610.1,273.0 608.1,269.0 604.0,267.0 599.0,266.0 594.9,263.9 591.9,260.9 591.3,255.9 592.5,250.8 590.5,246.8 590.9,242.7 594.9,240.7 600.0,238.7 604.0,236.7" fill="#eef4fb"/>
<polygon points="650.5,252.8 654.5,256.9 652.5,260.9 655.6,264.9 654.5,270.0 656.6,273.0 653.5,277.1 650.5,280.1 647.5,284.1 645.5,288.2 644.4,293.2 641.4,296.3 637.4,298.3 633.3,299.3 629.3,297.3 625.3,298.3 622.2,295.3 620.2,291.2 618.8,287.2 618.2,283.1 616.2,278.1 619.2,276.1 624.2,274.0 629.3,271.0 634.3,268.0 638.4,263.9 642.4,259.9 646.5,255.9" fill="#eef4fb"/>
<polygon points="499.1,210.2 503.2,212.2 507.2,215.3 511.3,217.3 515.3,216.3 519.2,217.5 523.2,219.5 527.3,221.5 529.3,225.6 530.3,229.6 528.3,234.6 529.3,239.7 527.3,244.7 528.3,249.8 525.3,253.8 521.2,255.9 518.2,258.9 515.2,254.8 511.1,251.8 507.1,250.8 505.2,248.6 502.2,244.5 499.1,240.5 497.1,236.5 494.1,233.4 496.1,229.4 497.1,224.3 496.7,219.3 498.1,214.2" fill="#eef4fb"/>
<polygon points="462.8,243.5 466.8,241.5 470.8,238.5 473.9,234.4 477.9,232.4 483.0,232.0 489.0,232.0 494.1,233.4 497.1,236.5 499.1,240.5 502.2,244.5 505.2,248.6 503.2,251.6 499.1,253.6 496.1,256.7 496.1,260.7 493.1,264.7 489.0,267.8 486.0,271.8 483.0,275.9 477.9,277.9 473.9,275.9 474.9,270.8 477.9,266.8 475.9,263.7 471.9,261.7 469.8,258.7 467.8,253.6 465.8,248.6" fill="#79a8c9"/>
<polygon points="461.8,224.3 463.8,228.4 464.8,233.4 463.8,238.5 462.8,243.5 466.8,241.5 470.8,238.5 473.9,234.4 477.9,232.4 483.0,232.0 489.0,232.0 494.1,233.4 496.1,229.4 497.1,224.3 496.7,219.3 498.1,214.2 499.1,210.2 500.1,205.2 499.1,199.1 494.1,204.7 491.1,207.8 487.0,209.8 483.0,210.8 477.9,210.8 472.9,210.8 468.8,212.8 466.8,216.9 464.8,220.9" fill="#396aa9"/>
<polygon points="433.5,246.6 437.5,247.6 442.6,248.6 447.6,249.6 451.7,252.6 453.7,257.7 456.7,262.7 459.7,267.8 463.8,270.8 467.8,271.8 469.8,268.8 468.8,264.7 470.8,261.7 469.8,258.7 467.8,253.6 465.8,248.6 462.8,243.5 463.8,238.5 464.8,233.4 463.8,228.4 461.8,224.3 457.7,226.4 454.7,225.4 452.7,220.3 448.6,222.3 444.6,223.3 440.5,222.3 438.5,227.4 436.5,233.4 434.5,240.5" fill="#396aa9"/>
<polygon points="413.3,217.9 415.3,216.5 418.3,212.4 422.4,208.4 428.0,205.2 433.5,207.8 437.5,211.8 438.9,216.9 440.5,222.3 438.5,227.4 436.5,233.4 434.5,240.5 433.5,246.6 429.4,247.6 424.4,248.6 420.3,244.5 418.3,239.5 416.3,233.4 413.3,228.4 411.3,221.9" fill="#396aa9"/>
<polygon points="398.1,196.7 393.1,199.7 389.0,202.7 386.0,207.8 387.0,212.8 390.0,217.9 395.1,220.9 397.1,224.9 402.2,223.9 407.2,224.9 411.3,221.9 413.3,217.9 410.2,214.8 406.2,211.8 403.2,207.8 400.1,202.7" fill="#eef4fb"/>
<polygon points="414.3,184.1 418.3,187.6 421.4,189.0 425.4,191.2 430.4,192.2 436.5,193.8 434.5,197.3 430.4,201.3 428.0,205.2 422.4,208.4 418.3,212.4 415.3,216.5 413.3,217.9 410.2,214.8 406.2,211.8 403.2,207.8 400.1,202.7 398.1,196.7 401.2,192.6 405.2,188.6 410.2,186.6" fill="#eef4fb"/>
<polygon points="402.2,165.4 406.2,162.3 409.2,158.3 414.3,156.3 417.3,151.2 421.4,147.2 426.4,149.2 431.5,152.2 432.5,158.3 431.5,164.3 432.5,170.4 429.4,175.5 426.4,178.5 424.4,182.5 421.4,185.6 418.3,187.6 414.3,184.1 415.3,178.5 416.3,173.4 412.3,170.4 407.2,169.4" fill="#79a8c9"/>
<polygon points="426.4,178.5 431.5,180.5 436.5,182.5 442.6,184.5 448.6,186.6 453.7,189.0 448.6,193.2 442.6,199.3 434.5,204.3 428.0,205.2 430.4,201.3 434.5,197.3 436.5,193.8 430.4,192.2 425.4,191.2 421.4,189.0 418.3,187.6 421.4,185.6 424.4,182.5" fill="#79a8c9"/>
<polygon points="431.5,152.2 436.5,155.3 441.6,156.3 446.6,160.3 450.6,163.3 455.7,160.3 460.7,157.3 465.8,155.3 470.8,155.3 474.9,158.3 476.9,163.3 478.9,170.4 475.9,174.4 472.9,178.5 468.8,181.5 463.8,183.5 458.7,185.6 453.7,189.0 448.6,186.6 442.6,184.5 436.5,182.5 431.5,180.5 426.4,178.5 429.4,175.5 432.5,170.4 431.5,164.3 432.5,158.3" fill="#79a8c9"/>
<polygon points="453.7,189.0 458.7,185.6 463.8,183.5 468.8,181.5 472.9,178.5 475.9,174.4 478.9,170.4 480.5,176.5 479.9,182.5 477.9,187.6 474.9,190.6 470.8,196.7 468.8,193.6 466.8,190.6 462.8,190.2 458.7,191.0 455.7,190.0 453.7,190.6" fill="#396aa9"/>
<polygon points="478.9,170.4 483.0,172.8 487.0,174.0 492.1,172.8 496.1,170.4 499.1,171.8 498.7,177.5 499.5,182.9 498.5,188.6 499.5,193.6 499.1,199.1 495.1,200.7 491.1,199.7 487.0,200.7 483.0,199.7 478.9,198.7 474.9,197.7 470.8,196.7 474.9,190.6 477.9,187.6 479.9,182.5 480.5,176.5" fill="#396aa9"/>
<polygon points="428.0,205.2 434.5,204.3 442.6,199.3 448.6,193.2 453.7,189.0 453.7,190.6 453.1,194.2 453.7,198.1 452.3,200.7 453.7,205.8 452.7,210.8 454.7,214.8 453.7,219.9 452.7,220.3 448.6,222.3 444.6,223.3 440.5,222.3 438.9,216.9 437.5,211.8 433.5,207.8" fill="#396aa9"/>
<polygon points="453.7,190.6 455.7,190.0 458.7,191.0 462.8,190.2 466.8,190.6 468.8,193.6 470.8,196.7 468.8,198.3 465.8,197.7 461.8,198.1 457.7,197.7 453.7,198.1 453.1,194.2" fill="#20406b"/>
<polygon points="453.7,198.1 457.7,197.7 461.8,198.1 465.8,197.7 468.8,198.3 470.8,196.7 474.9,197.7 478.9,198.7 483.0,199.7 487.0,200.7 491.1,199.7 495.1,200.7 499.1,199.1 498.1,201.7 494.1,205.4 491.1,208.4 487.0,210.4 483.0,211.4 477.9,211.4 472.9,211.4 468.8,213.4 466.8,217.5 464.8,221.5 461.8,224.3 457.7,226.4 454.7,225.4 452.7,220.3 453.7,219.9 454.7,214.8 452.7,210.8 453.7,205.8 452.3,200.7" fill="#20406b"/>
<polyline points="453.1,207.2 459.7,206.4 466.8,208.8" fill="none"/>
<polyline points="455.7,219.3 460.7,217.3 465.8,216.9" fill="none"/>
<polyline points="466.8,198.3 466.4,203.7 467.8,212.8" fill="none"/>
<polyline points="467.8,205.8 476.9,204.3 487.0,205.2 496.1,202.3" fill="none"/>
<polyline points="466.4,203.7 469.2,204.3 468.8,207.8 466.8,208.8" fill="none"/>
</g>
<polygon points="386.0,207.8 386.0,207.8 387.0,212.8 387.0,212.8 387.0,212.8 390.0,217.9 390.0,217.9 390.0,217.9 395.0,220.9 395.0,220.9 395.1,220.9 395.1,220.9 395.1,220.9 395.1,221.0 395.1,221.0 397.1,224.9 397.1,224.9 397.1,224.9 402.1,224.0 402.1,223.9 402.2,223.9 402.2,223.9 402.2,224.0 407.2,224.9 407.2,224.9 407.2,224.9 410.9,222.2 410.9,222.2 411.0,222.1 411.0,222.1 411.0,222.1 411.1,222.1 411.1,222.1 411.1,222.1 411.1,222.1 411.2,222.1 411.2,222.1 411.2,222.1 411.3,222.2 411.3,222.2 411.3,222.2 411.3,222.2 411.3,222.2 411.4,222.3 411.4,222.3 411.4,222.3 413.3,228.4 413.3,228.4 413.3,228.4 416.3,233.4 416.3,233.4 416.3,233.5 418.3,239.5 418.3,239.5 420.3,244.5 420.3,244.5 420.3,244.6 424.4,248.6 424.4,248.6 424.4,248.6 429.4,247.6 429.4,247.6 433.4,246.6 433.4,246.6 433.5,246.6 433.5,246.6 433.5,246.6 433.5,246.6 437.5,247.6 437.5,247.6 442.6,248.6 447.5,249.6 447.6,249.6 447.6,249.6 447.6,249.6 447.6,249.6 447.7,249.6 451.6,252.6 451.6,252.6 451.6,252.6 451.6,252.6 451.7,252.7 451.7,252.7 451.7,252.7 453.7,257.7 453.7,257.7 453.7,257.7 456.7,262.7 459.7,267.8 459.7,267.8 459.7,267.8 463.8,270.8 463.8,270.8 463.8,270.8 467.8,271.8 467.8,271.8 467.8,271.8 469.8,268.8 469.8,268.8 469.8,268.8 468.9,264.9 468.9,264.8 468.9,264.8 468.9,264.8 468.9,264.8 468.9,264.7 468.9,264.7 468.9,264.7 468.9,264.6 470.8,261.7 470.8,261.7 470.8,261.7 470.5,260.8 470.5,260.8 470.5,260.8 470.5,260.7 470.5,260.7 470.5,260.7 470.5,260.6 470.6,260.6 470.6,260.6 470.6,260.6 470.6,260.5 470.6,260.5 470.6,260.5 470.7,260.5 470.7,260.5 470.7,260.4 470.7,260.4 470.8,260.4 470.8,260.4 470.8,260.4 470.9,260.4 470.9,260.4 470.9,260.4 470.9,260.4 471.0,260.5 471.0,260.5 471.0,260.5 471.0,260.5 471.1,260.5 471.1,260.6 471.9,261.7 471.9,261.7 471.9,261.7 475.8,263.7 475.9,263.7 475.9,263.7 475.9,263.8 475.9,263.8 475.9,263.8 477.8,266.6 477.8,266.6 477.8,266.6 477.8,266.7 477.8,266.7 477.8,266.7 477.9,266.8 477.9,266.8 477.8,266.8 477.8,266.8 477.8,266.9 477.8,266.9 477.8,266.9 477.8,266.9 474.9,270.8 474.9,270.8 474.9,270.8 473.9,275.9 473.9,275.9 473.9,275.9 477.9,277.9 477.9,277.9 477.9,277.9 483.0,275.9 483.0,275.9 483.0,275.9 489.0,267.8 489.0,267.8 489.0,267.8 489.1,267.8 493.1,264.8 493.1,264.7 493.1,264.7 496.1,260.7 496.1,260.7 496.1,260.7 496.1,256.8 496.1,256.8 496.1,256.7 496.1,256.7 496.1,256.7 496.1,256.6 496.2,256.6 496.2,256.6 496.2,256.6 499.1,253.7 499.1,253.6 499.1,253.6 499.2,253.6 503.2,251.6 503.2,251.6 503.2,251.6 505.0,248.9 505.0,248.9 505.0,248.9 505.0,248.9 505.1,248.8 505.1,248.8 505.1,248.8 505.1,248.8 505.2,248.8 505.2,248.8 505.2,248.8 505.2,248.8 505.3,248.8 505.3,248.8 505.3,248.8 505.4,248.8 505.4,248.8 505.4,248.8 505.4,248.9 505.4,248.9 507.1,250.8 507.1,250.8 507.1,250.8 511.1,251.8 511.1,251.8 511.1,251.8 511.1,251.8 511.2,251.9 515.1,254.8 515.1,254.8 515.2,254.9 515.2,254.9 518.2,258.9 518.2,258.9 518.2,258.9 521.2,255.9 521.2,255.9 521.2,255.9 521.3,255.8 525.2,253.8 525.3,253.8 525.3,253.8 528.3,249.8 528.3,249.8 528.3,249.8 527.3,244.8 527.3,244.8 527.3,244.8 527.3,244.7 527.3,244.7 527.3,244.7 527.3,244.7 529.3,239.7 529.3,239.7 529.3,239.7 528.3,234.7 528.3,234.7 528.3,234.7 528.3,234.6 528.3,234.6 528.3,234.6 528.3,234.6 530.2,229.9 530.2,229.8 530.2,229.8 530.2,229.8 530.3,229.8 530.3,229.7 530.3,229.7 530.3,229.7 530.4,229.7 530.4,229.7 530.4,229.7 530.5,229.7 530.5,229.7 530.5,229.7 530.5,229.7 530.6,229.7 533.3,230.6 533.3,230.6 533.3,230.6 537.4,228.6 537.4,228.6 540.3,227.6 540.3,227.6 540.3,227.6 540.4,227.6 540.4,227.6 540.4,227.6 540.5,227.6 540.5,227.6 540.5,227.6 548.4,231.6 548.5,231.6 548.5,231.6 548.5,231.7 551.5,234.6 551.5,234.6 551.5,234.6 551.5,234.7 551.5,234.7 551.5,234.7 551.5,234.7 552.5,239.7 552.5,239.7 552.5,239.7 554.5,243.7 554.5,243.7 554.6,243.7 557.6,245.8 557.6,245.8 557.6,245.8 557.6,245.8 557.6,245.8 560.6,243.7 560.6,243.7 568.6,239.7 568.6,239.7 568.6,239.7 568.7,239.7 568.7,239.7 568.7,239.7 568.8,239.7 568.8,239.7 572.7,240.7 572.7,240.7 572.7,240.7 576.8,239.7 576.8,239.7 580.8,238.3 580.8,238.3 580.8,238.3 585.7,237.7 585.8,237.7 585.8,237.7 585.8,237.7 585.9,237.7 585.9,237.7 585.9,237.7 586.0,237.7 588.8,239.7 588.9,239.7 588.9,239.7 588.9,239.7 588.9,239.7 590.8,242.6 590.9,242.7 590.9,242.7 590.9,242.7 590.9,242.7 590.9,242.8 590.9,242.8 590.9,242.8 590.5,246.8 590.5,246.8 590.5,246.8 592.5,250.7 592.5,250.7 592.5,250.8 592.5,250.8 592.5,250.8 592.5,250.9 592.5,250.9 592.5,250.9 591.3,255.9 591.3,255.9 591.3,255.9 591.9,260.9 591.9,260.9 591.9,260.9 594.9,263.9 594.9,263.9 595.0,263.9 599.0,266.0 599.0,266.0 599.0,266.0 604.0,267.0 604.0,267.0 604.1,267.0 604.1,267.0 608.0,268.9 608.0,269.0 608.0,269.0 608.1,269.0 608.1,269.0 608.1,269.0 608.1,269.1 608.1,269.1 610.1,272.9 610.1,273.0 610.1,273.0 610.1,273.0 610.1,273.0 610.1,273.1 610.1,273.1 610.1,273.1 609.1,277.0 609.1,277.1 609.1,277.1 607.1,281.1 607.1,281.1 607.1,281.1 606.7,285.1 606.7,285.2 606.7,285.2 608.1,288.2 608.1,288.2 608.1,288.2 611.1,286.2 611.1,286.2 611.1,286.2 610.2,282.3 610.1,282.3 610.1,282.3 610.1,282.2 610.1,282.2 610.2,282.2 610.2,282.2 610.2,282.1 610.2,282.1 610.2,282.1 610.2,282.1 610.2,282.0 610.3,282.0 610.3,282.0 615.9,278.3 615.9,278.3 615.9,278.3 615.9,278.2 616.0,278.2 616.0,278.2 616.0,278.2 616.1,278.2 616.1,278.2 616.1,278.2 616.1,278.3 616.2,278.3 616.2,278.3 616.2,278.3 616.2,278.3 616.3,278.3 616.3,278.4 616.3,278.4 616.3,278.4 618.2,283.1 618.2,283.1 618.2,283.2 618.8,287.2 618.8,287.2 618.8,287.2 620.2,291.2 620.2,291.2 622.2,295.2 622.2,295.3 622.2,295.3 625.2,298.3 625.3,298.3 625.3,298.3 629.2,297.3 629.2,297.3 629.2,297.3 629.3,297.3 629.3,297.3 629.3,297.3 629.4,297.3 629.4,297.3 633.3,299.3 633.3,299.3 633.3,299.3 637.4,298.3 637.4,298.3 637.4,298.3 641.4,296.3 641.4,296.3 641.4,296.3 644.4,293.2 644.4,293.2 644.4,293.2 645.4,288.2 645.5,288.2 645.5,288.2 645.5,288.1 647.5,284.2 647.5,284.1 647.5,284.1 650.5,280.1 650.5,280.1 653.5,277.1 653.5,277.1 656.6,273.0 656.6,273.0 656.6,273.0 654.6,270.1 654.6,270.1 654.6,270.1 654.6,270.0 654.6,270.0 654.6,270.0 654.6,269.9 654.6,269.9 654.6,269.9 655.6,265.0 655.6,264.9 655.6,264.9 652.6,261.1 652.6,261.0 652.6,261.0 652.6,261.0 652.6,260.9 652.6,260.9 652.6,260.9 652.6,260.9 652.6,260.8 652.6,260.8 652.6,260.8 652.6,260.7 654.5,256.9 654.5,256.9 654.5,256.9 650.7,253.0 650.7,253.0 650.7,253.0 650.7,253.0 650.7,252.9 650.6,252.9 650.6,252.9 650.6,252.9 650.6,252.8 650.6,252.8 650.6,252.8 650.6,252.7 650.7,252.7 650.7,252.7 650.7,252.7 650.7,252.6 650.7,252.6 652.5,250.8 652.5,250.8 655.6,246.8 655.6,246.8 655.6,246.8 657.2,241.7 657.2,241.7 657.2,241.7 655.6,237.7 655.6,237.7 655.6,237.7 651.5,234.6 647.5,231.6 647.5,231.6 644.5,228.7 644.5,228.6 644.5,228.6 644.5,228.6 644.4,228.6 644.4,228.5 644.4,228.5 643.4,223.5 643.4,223.5 643.4,223.5 641.4,219.5 641.4,219.5 641.4,219.5 638.4,216.9 638.4,216.9 638.4,216.9 634.4,218.5 634.3,218.5 634.3,218.5 631.7,220.3 631.6,220.3 631.6,220.3 631.6,220.3 631.6,220.3 631.5,220.3 631.5,220.3 631.5,220.3 631.4,220.3 631.4,220.3 631.4,220.3 631.4,220.3 631.3,220.3 631.3,220.2 631.3,220.2 631.3,220.2 631.2,220.2 631.2,220.1 631.2,220.1 631.2,220.1 630.3,216.5 630.3,216.5 630.3,216.5 628.3,212.5 628.3,212.5 628.3,212.5 628.3,212.4 628.3,212.4 628.3,212.4 628.3,212.4 628.3,212.3 629.3,207.4 629.3,207.4 629.3,207.4 627.3,202.3 627.3,202.3 627.3,202.3 624.2,199.3 624.2,199.3 624.2,199.3 620.2,197.3 620.2,197.3 620.2,197.3 616.2,194.3 616.2,194.3 616.2,194.3 616.2,194.2 616.2,194.2 616.1,194.2 616.1,194.2 614.1,189.2 614.1,189.2 614.1,189.2 611.1,186.2 611.1,186.2 611.1,186.2 608.1,188.2 608.1,188.2 608.1,188.2 605.1,193.2 605.0,193.2 604.1,195.1 604.1,195.2 604.1,195.2 604.0,195.2 604.0,195.2 604.0,195.3 604.0,195.3 603.9,195.3 603.9,195.3 601.1,196.2 601.1,196.2 601.1,196.2 601.0,196.2 601.0,196.2 601.0,196.2 601.0,196.2 600.9,196.2 600.9,196.2 597.2,194.4 597.2,194.4 597.2,194.3 597.2,194.3 597.1,194.3 597.1,194.3 597.1,194.2 597.1,194.2 597.1,194.2 597.1,194.2 597.1,194.1 597.1,194.1 597.1,194.1 597.1,194.0 597.1,194.0 597.1,194.0 595.7,190.2 595.7,190.1 595.7,190.1 595.7,190.1 595.7,190.0 595.7,190.0 595.7,190.0 595.7,189.9 595.7,189.9 595.7,189.9 595.8,189.9 598.1,187.0 598.1,187.0 598.1,187.0 598.1,186.9 601.1,185.0 601.1,184.9 601.1,184.9 603.1,181.9 603.1,181.9 603.1,181.9 604.7,177.9 604.7,177.9 604.7,177.9 604.1,172.9 604.1,172.9 604.1,172.8 604.2,172.8 604.2,172.8 605.6,167.8 605.6,167.8 607.2,162.7 607.2,162.7 607.2,162.7 606.2,157.7 606.2,157.7 606.2,157.7 598.1,149.7 598.1,149.6 598.1,149.6 598.1,149.6 598.1,149.6 598.1,149.5 598.1,149.5 597.1,144.6 597.1,144.5 597.1,144.5 595.7,141.1 595.7,141.1 595.7,141.1 595.7,141.1 595.7,141.0 595.7,141.0 595.7,141.0 595.7,140.9 595.7,140.9 595.7,140.9 595.7,140.9 595.8,140.8 595.8,140.8 595.8,140.8 595.8,140.8 595.8,140.8 595.9,140.8 595.9,140.7 595.9,140.7 596.0,140.7 596.0,140.7 596.0,140.7 596.0,140.7 596.1,140.7 596.1,140.8 598.1,141.5 598.1,141.5 598.1,141.5 602.1,140.5 602.1,140.5 607.2,139.5 607.2,139.5 607.2,139.5 612.2,137.5 612.2,137.5 616.2,135.5 616.2,135.5 616.2,135.5 616.3,135.5 616.3,135.5 616.3,135.5 616.4,135.5 620.3,136.1 620.3,136.1 624.3,136.5 624.3,136.5 624.3,136.5 627.7,134.2 627.7,134.2 627.8,134.2 627.8,134.2 627.8,134.2 627.9,134.2 627.9,134.2 627.9,134.2 627.9,134.2 628.0,134.2 628.0,134.2 628.0,134.2 628.1,134.2 628.1,134.2 628.1,134.2 628.1,134.2 630.7,133.2 630.7,133.2 630.7,133.2 633.7,131.2 633.7,131.2 633.7,131.2 636.8,128.2 636.8,128.2 636.8,128.2 638.6,125.4 638.6,125.4 638.7,125.3 638.7,125.3 638.7,125.3 638.7,125.3 638.8,125.3 638.8,125.3 638.8,125.3 638.8,125.3 638.9,125.3 638.9,125.3 638.9,125.3 639.0,125.3 639.0,125.3 639.0,125.3 639.0,125.3 640.3,126.1 640.3,126.1 640.4,126.1 640.4,126.2 640.4,126.2 640.4,126.2 640.4,126.2 640.4,126.3 641.8,130.2 641.8,130.2 643.6,134.2 643.6,134.2 643.6,134.2 643.6,134.3 643.6,134.3 643.6,134.3 643.2,138.5 643.2,138.5 643.2,138.5 645.9,141.3 645.9,141.3 645.9,141.3 649.9,139.3 653.9,137.3 653.9,137.3 654.0,137.3 654.0,137.3 656.8,136.7 656.8,136.7 656.9,136.7 656.9,136.7 656.9,136.7 657.0,136.7 657.0,136.7 657.0,136.7 657.0,136.7 657.1,136.8 657.1,136.8 659.4,139.3 659.4,139.3 662.0,141.7 662.0,141.7 662.0,141.7 665.0,136.9 665.1,136.9 665.1,136.8 668.0,133.7 668.1,133.7 668.1,133.6 668.1,133.6 668.1,133.6 671.1,132.2 671.1,132.2 671.1,132.2 674.1,130.2 674.1,130.2 674.1,130.2 677.2,127.2 680.2,124.1 680.2,124.1 680.2,124.1 682.1,121.3 682.1,121.3 682.1,121.2 682.2,121.2 682.2,121.2 682.2,121.2 682.2,121.2 682.3,121.2 682.3,121.2 682.3,121.2 682.3,121.2 682.4,121.2 682.4,121.2 682.4,121.2 686.3,122.1 686.3,122.1 686.3,122.1 690.3,120.7 690.3,120.7 694.3,119.1 698.3,117.5 698.4,117.5 698.4,117.5 698.4,117.5 702.3,117.1 702.4,117.1 702.4,117.1 702.4,117.1 702.5,117.1 702.5,117.1 702.5,117.1 705.8,119.0 705.8,119.1 705.8,119.1 705.9,119.1 705.9,119.1 705.9,119.1 705.9,119.2 707.5,122.1 707.5,122.1 707.5,122.1 709.9,120.1 709.9,120.1 709.9,120.1 712.5,116.1 712.5,116.1 714.5,112.0 714.5,112.0 714.5,112.0 713.6,108.0 713.5,108.0 713.5,108.0 713.5,108.0 713.5,107.9 713.5,107.9 714.5,102.9 714.5,102.9 716.0,97.9 716.0,97.9 716.0,97.9 715.2,92.8 715.2,92.8 714.5,87.8 714.5,87.8 714.5,87.8 713.1,82.7 713.1,82.7 713.1,82.7 710.5,79.7 710.5,79.7 710.5,79.7 705.5,77.7 705.4,77.7 701.4,75.7 701.4,75.6 698.4,73.6 698.4,73.6 698.4,73.6 693.3,72.2 693.3,72.2 689.4,70.6 689.3,70.6 689.3,70.6 689.3,70.6 689.3,70.6 689.2,70.5 686.9,67.6 686.9,67.6 686.9,67.6 686.9,67.5 686.9,67.5 685.7,63.5 685.7,63.5 685.7,63.5 683.2,60.5 683.2,60.5 683.2,60.5 679.2,59.1 679.2,59.1 679.2,59.1 673.1,58.9 673.1,58.9 667.1,59.1 667.1,59.1 661.0,59.5 661.0,59.5 655.1,59.5 655.1,59.5 655.1,59.5 655.0,59.5 655.0,59.5 655.0,59.5 655.0,59.4 654.9,59.4 654.9,59.4 654.9,59.4 654.9,59.4 654.9,59.3 652.9,55.5 652.9,55.5 652.9,55.5 648.9,52.4 648.9,52.4 633.7,43.3 628.7,40.3 628.7,40.3 622.6,37.3 622.6,37.3 617.6,34.2 617.6,34.2 617.6,34.2 611.6,33.2 611.5,33.2 611.5,33.2 611.5,33.2 611.5,33.2 606.5,30.2 606.5,30.2 602.4,28.2 602.4,28.2 602.4,28.2 597.4,27.2 597.4,27.2 597.4,27.2 594.3,29.2 594.3,29.2 594.3,29.2 595.8,32.0 595.9,32.0 595.9,32.1 595.9,32.1 595.9,32.1 595.9,32.1 595.9,32.2 595.9,32.2 595.9,32.2 595.9,32.3 595.8,32.3 595.8,32.3 595.8,32.3 595.8,32.4 595.8,32.4 592.3,35.2 592.3,35.3 592.3,35.3 594.2,38.0 594.2,38.0 594.2,38.1 594.2,38.1 594.2,38.1 594.2,38.1 594.2,38.2 594.2,38.2 594.2,38.2 594.2,38.3 594.2,38.3 594.2,38.3 594.2,38.3 594.1,38.4 594.1,38.4 594.1,38.4 594.1,38.4 594.0,38.4 590.3,40.3 590.3,40.3 590.3,40.3 587.3,43.3 587.3,43.3 587.3,43.3 589.3,47.4 589.3,47.4 589.3,47.4 593.3,49.4 593.3,49.4 593.4,49.4 597.4,52.4 597.4,52.4 603.4,58.4 603.4,58.4 603.4,58.5 603.4,58.5 603.4,58.5 603.4,58.5 603.4,58.6 603.4,58.6 604.0,62.8 604.0,62.8 604.0,62.8 604.0,62.9 604.0,62.9 604.0,62.9 604.0,63.0 604.0,63.0 604.0,63.0 603.9,63.0 599.4,67.6 599.4,67.6 594.4,71.6 594.3,71.6 589.3,74.6 584.3,77.7 584.2,77.7 584.2,77.7 581.2,80.7 581.2,80.7 581.2,80.7 582.2,84.6 582.2,84.7 582.2,84.7 582.2,84.7 582.2,84.8 582.2,84.8 582.2,84.8 582.2,84.8 580.2,88.7 580.2,88.7 580.2,88.7 580.2,88.8 580.2,88.8 580.2,88.8 580.1,88.8 580.1,88.8 576.2,90.8 576.2,90.8 576.2,90.8 576.1,90.8 576.1,90.8 576.1,90.8 572.7,90.8 572.7,90.8 572.7,90.8 570.7,96.1 570.7,96.1 570.7,96.1 571.7,101.0 571.7,101.0 571.7,101.0 571.7,101.1 571.7,101.1 571.7,101.1 571.7,101.1 571.7,101.2 571.7,101.2 571.6,101.2 568.7,105.2 565.7,109.2 565.7,109.2 565.7,109.2 564.6,112.2 564.6,112.2 564.7,112.2 566.5,114.4 566.5,114.4 566.5,114.5 566.5,114.5 566.5,114.5 566.5,114.6 566.5,114.6 566.6,114.6 566.6,114.6 566.5,114.7 566.5,114.7 566.5,114.7 566.5,114.7 566.5,114.8 566.5,114.8 566.5,114.8 566.5,114.8 563.7,117.3 563.7,117.3 560.9,120.1 560.9,120.1 560.8,120.2 560.8,120.2 560.8,120.2 560.8,120.2 560.7,120.2 560.7,120.2 560.7,120.2 560.6,120.2 560.6,120.2 560.6,120.2 560.6,120.2 560.5,120.2 560.5,120.2 557.7,118.3 557.7,118.3 557.7,118.3 553.8,120.2 553.8,120.2 553.8,120.2 553.7,120.2 553.7,120.2 553.7,120.2 553.7,120.2 553.6,120.2 553.6,120.2 553.6,120.2 553.6,120.2 553.5,120.2 553.5,120.2 553.5,120.2 550.6,117.3 550.6,117.3 550.6,117.3 546.6,118.3 546.6,118.3 546.6,118.3 542.6,120.3 542.6,120.3 542.6,120.3 542.5,120.3 542.5,120.3 542.5,120.3 542.4,120.3 542.4,120.3 538.5,119.3 538.5,119.3 538.5,119.3 535.5,122.3 535.4,122.3 531.4,125.3 531.4,125.4 531.4,125.4 530.4,129.4 530.4,129.4 530.4,129.4 533.3,132.3 533.3,132.3 533.4,132.4 533.4,132.4 533.4,132.4 533.4,132.4 533.4,132.5 533.4,132.5 533.4,132.5 533.4,132.6 533.4,132.6 532.4,136.4 532.4,136.5 532.4,136.5 530.4,140.5 530.4,140.5 530.4,140.5 530.4,140.5 529.4,141.5 529.4,141.5 529.4,141.5 529.4,141.5 523.3,149.6 520.3,153.6 520.3,153.6 516.3,160.7 516.3,160.7 516.2,160.7 512.2,165.7 512.2,165.8 508.2,169.8 508.2,169.8 504.2,172.7 504.2,172.8 504.2,172.8 504.2,172.8 504.1,172.8 504.1,172.8 504.1,172.8 504.1,172.8 504.0,172.8 504.0,172.8 499.2,171.8 499.2,171.8 499.1,171.8 496.1,170.4 496.1,170.4 496.1,170.4 492.1,172.8 492.1,172.8 492.0,172.8 492.0,172.8 487.1,174.0 487.1,174.0 487.0,174.0 487.0,174.0 487.0,174.0 486.9,174.0 483.0,172.8 483.0,172.8 483.0,172.8 482.9,172.8 479.0,170.5 479.0,170.4 479.0,170.4 479.0,170.4 478.9,170.4 478.9,170.4 478.9,170.3 478.9,170.3 478.9,170.3 476.9,163.3 476.9,163.3 474.9,158.3 474.9,158.3 474.9,158.3 470.9,155.3 470.8,155.3 470.8,155.3 465.8,155.3 465.8,155.3 465.8,155.3 460.8,157.3 460.7,157.3 460.7,157.3 455.7,160.3 450.8,163.2 450.8,163.2 450.8,163.3 450.7,163.3 450.7,163.3 450.7,163.3 450.6,163.3 450.6,163.3 450.6,163.3 450.6,163.3 450.5,163.2 450.5,163.2 450.5,163.2 446.6,160.3 446.6,160.3 441.6,156.3 441.6,156.3 441.5,156.3 436.6,155.3 436.5,155.3 436.5,155.2 436.5,155.2 431.5,152.2 426.4,149.2 426.4,149.2 426.4,149.2 421.4,147.2 421.4,147.2 421.3,147.2 417.3,151.2 417.3,151.2 417.3,151.2 414.3,156.2 414.3,156.2 414.3,156.2 414.3,156.2 414.3,156.3 414.2,156.3 414.2,156.3 414.2,156.3 409.2,158.3 409.2,158.3 409.2,158.3 406.2,162.3 406.2,162.3 406.2,162.3 406.2,162.3 402.2,165.3 402.2,165.4 402.2,165.4 407.2,169.4 407.2,169.4 407.2,169.4 412.2,170.4 412.2,170.4 412.2,170.4 412.3,170.4 412.3,170.4 412.3,170.4 416.2,173.3 416.2,173.3 416.2,173.4 416.2,173.4 416.2,173.4 416.2,173.4 416.3,173.5 416.3,173.5 416.3,173.5 416.3,173.6 416.3,173.6 416.3,173.6 415.3,178.5 415.3,178.5 414.3,184.0 414.3,184.0 414.3,184.1 414.3,184.1 414.3,184.1 414.3,184.1 414.2,184.2 414.2,184.2 414.2,184.2 414.2,184.2 410.3,186.6 410.2,186.6 410.2,186.6 405.2,188.6 405.2,188.6 405.2,188.6 401.2,192.6 401.1,192.6 398.2,196.6 398.1,196.6 398.1,196.7 398.1,196.7 398.1,196.7 393.1,199.7 393.1,199.7 389.0,202.7 389.0,202.7 389.0,202.7 386.0,207.8 386.0,207.8" fill="none" stroke="#2c3640" stroke-width="0.9" stroke-linejoin="round"/>
<line x1="78.3" y1="196.0" x2="66.8" y2="149.2" stroke="#1a1a1a" stroke-width="1.2"/>
<polygon points="64.6,140.5 71.1,150.2 66.9,149.7 63.4,152.1" fill="#111"/>
<line x1="91.9" y1="205.0" x2="91.9" y2="156.4" stroke="rgba(70,10,25,0.62)" stroke-width="1.9"/>
<polygon points="91.9,147.4 95.9,158.4 91.9,156.9 87.9,158.4" fill="#111"/>
<line x1="108.0" y1="201.0" x2="124.2" y2="156.8" stroke="#1a1a1a" stroke-width="1.2"/>
<polygon points="127.3,148.4 127.3,160.1 124.0,157.3 119.8,157.3" fill="#111"/>
<line x1="79.8" y1="210.2" x2="55.7" y2="255.7" stroke="#1a1a1a" stroke-width="1.2"/>
<polygon points="51.5,263.7 53.1,252.1 55.9,255.3 60.2,255.8" fill="#111"/>
<line x1="85.9" y1="216.3" x2="79.0" y2="270.0" stroke="#1a1a1a" stroke-width="1.2"/>
<polygon points="77.8,278.9 75.2,267.5 79.0,269.5 83.2,268.5" fill="#111"/>
<line x1="458.0" y1="197.2" x2="446.2" y2="149.7" stroke="#1a1a1a" stroke-width="1.2"/>
<polygon points="444.0,141.0 450.6,150.7 446.3,150.2 442.8,152.6" fill="#111"/>
<line x1="471.8" y1="206.3" x2="471.8" y2="156.9" stroke="rgba(10,25,60,0.62)" stroke-width="1.9"/>
<polygon points="471.8,147.9 475.8,158.9 471.8,157.4 467.8,158.9" fill="#111"/>
<line x1="488.1" y1="202.2" x2="504.6" y2="157.4" stroke="#1a1a1a" stroke-width="1.2"/>
<polygon points="507.7,149.0 507.7,160.7 504.5,157.9 500.2,157.9" fill="#111"/>
<line x1="459.5" y1="211.6" x2="434.9" y2="257.8" stroke="#1a1a1a" stroke-width="1.2"/>
<polygon points="430.7,265.8 432.3,254.2 435.2,257.4 439.4,257.9" fill="#111"/>
<line x1="465.7" y1="217.7" x2="458.6" y2="272.2" stroke="#1a1a1a" stroke-width="1.2"/>
<polygon points="457.4,281.2 454.9,269.7 458.7,271.7 462.8,270.8" fill="#111"/>
<text class="ml" x="238.2" y="51.0" textLength="24.0" lengthAdjust="spacing">城口县</text>
<text class="ml" x="283.0" y="76.5" textLength="24.0" lengthAdjust="spacing">巫溪县</text>
<text class="ml" x="317.6" y="97.4" textLength="24.0" lengthAdjust="spacing">巫山县</text>
<text class="ml" x="212.3" y="92.7" textLength="24.0" lengthAdjust="spacing">开州县</text>
<text class="ml" x="241.5" y="109.7" textLength="24.0" lengthAdjust="spacing">云阳县</text>
<text class="ml" x="279.0" y="129.7" textLength="24.0" lengthAdjust="spacing">奉节县</text>
<text class="ml" x="212.7" y="131.5" textLength="24.0" lengthAdjust="spacing">万州区</text>
<text class="ml" x="169.4" y="136.1" textLength="24.0" lengthAdjust="spacing">梁平区</text>
<text class="ml" x="144.2" y="161.3" textLength="24.0" lengthAdjust="spacing">垫江县</text>
<text class="ml" x="177.8" y="157.7" textLength="15.9" lengthAdjust="spacing">忠县</text>
<text class="ml" x="207.8" y="173.5" textLength="24.0" lengthAdjust="spacing">石柱县</text>
<text class="ml" x="174.7" y="189.5" textLength="24.0" lengthAdjust="spacing">丰都县</text>
<text class="ml" x="130.3" y="183.5" textLength="24.0" lengthAdjust="spacing">长寿区</text>
<text class="ml" x="138.4" y="204.0" textLength="24.0" lengthAdjust="spacing">涪陵区</text>
<text class="ml" x="130.1" y="147.3" textLength="24.0" lengthAdjust="spacing">江北区</text>
<text class="ml" x="240.5" y="215.9" textLength="24.0" lengthAdjust="spacing">黔江区</text>
<text class="ml" x="169.4" y="225.7" textLength="24.0" lengthAdjust="spacing">武隆区</text>
<text class="ml" x="206.5" y="225.7" textLength="24.0" lengthAdjust="spacing">彭水县</text>
<text class="ml" x="241.6" y="258.6" textLength="24.0" lengthAdjust="spacing">酉阳县</text>
<text class="ml" x="252.0" y="286.8" textLength="24.0" lengthAdjust="spacing">秀山县</text>
<text class="ml" x="131.0" y="241.3" textLength="24.0" lengthAdjust="spacing">南川区</text>
<text class="ml" x="60.8" y="137.2" textLength="32.0" lengthAdjust="spacing">沙坪坝区</text>
<text class="ml" x="95.2" y="145.4" textLength="24.0" lengthAdjust="spacing">渝中区</text>
<text class="ml" x="37.8" y="171.6" textLength="24.0" lengthAdjust="spacing">潼南区</text>
<text class="ml" x="72.7" y="173.2" textLength="24.0" lengthAdjust="spacing">合川区</text>
<text class="ml" x="54.2" y="191.2" textLength="24.0" lengthAdjust="spacing">铜梁区</text>
<text class="ml" x="87.0" y="192.1" textLength="24.0" lengthAdjust="spacing">北碚区</text>
<text class="ml" x="110.8" y="190.9" textLength="24.0" lengthAdjust="spacing">渝北区</text>
<text class="ml" x="32.6" y="205.1" textLength="24.0" lengthAdjust="spacing">大足区</text>
<text class="ml" x="57.5" y="209.6" textLength="24.0" lengthAdjust="spacing">璧山区</text>
<text class="ml" x="15.2" y="219.7" textLength="24.0" lengthAdjust="spacing">荣昌区</text>
<text class="ml" x="104.3" y="215.6" textLength="24.0" lengthAdjust="spacing">南岸区</text>
<text class="ml" x="44.5" y="231.0" textLength="24.0" lengthAdjust="spacing">永川区</text>
<text class="ml" x="102.8" y="229.6" textLength="24.0" lengthAdjust="spacing">巴南区</text>
<text class="ml" x="64.0" y="247.5" textLength="24.0" lengthAdjust="spacing">江津区</text>
<text class="ml" x="104.5" y="260.7" textLength="24.0" lengthAdjust="spacing">綦江区</text>
<text class="ml" x="45.5" y="275.3" textLength="32.0" lengthAdjust="spacing">九龙坡区</text>
<text class="ml" x="77.3" y="291.7" textLength="32.0" lengthAdjust="spacing">大渡口区</text>
<text class="ml" x="621.2" y="51.0" textLength="24.0" lengthAdjust="spacing">城口县</text>
<text class="ml" x="666.0" y="76.5" textLength="24.0" lengthAdjust="spacing">巫溪县</text>
<text class="ml" x="700.6" y="97.4" textLength="24.0" lengthAdjust="spacing">巫山县</text>
<text class="ml" x="595.3" y="92.7" textLength="24.0" lengthAdjust="spacing">开州县</text>
<text class="ml" x="624.5" y="109.7" textLength="24.0" lengthAdjust="spacing">云阳县</text>
<text class="ml" x="662.0" y="129.7" textLength="24.0" lengthAdjust="spacing">奉节县</text>
<text class="ml" x="595.7" y="131.5" textLength="24.0" lengthAdjust="spacing">万州区</text>
<text class="ml" x="552.4" y="136.1" textLength="24.0" lengthAdjust="spacing">梁平区</text>
<text class="ml" x="527.2" y="161.3" textLength="24.0" lengthAdjust="spacing">垫江县</text>
<text class="ml" x="560.8" y="157.7" textLength="15.9" lengthAdjust="spacing">忠县</text>
<text class="ml" x="590.8" y="173.5" textLength="24.0" lengthAdjust="spacing">石柱县</text>
<text class="ml" x="557.7" y="189.5" textLength="24.0" lengthAdjust="spacing">丰都县</text>
<text class="ml" x="513.3" y="183.5" textLength="24.0" lengthAdjust="spacing">长寿区</text>
<text class="ml" x="521.4" y="204.0" textLength="24.0" lengthAdjust="spacing">涪陵区</text>
<text class="ml" x="513.1" y="147.3" textLength="24.0" lengthAdjust="spacing">江北区</text>
<text class="ml" x="623.5" y="215.9" textLength="24.0" lengthAdjust="spacing">黔江区</text>
<text class="ml" x="552.4" y="225.7" textLength="24.0" lengthAdjust="spacing">武隆区</text>
<text class="ml" x="589.5" y="225.7" textLength="24.0" lengthAdjust="spacing">彭水县</text>
<text class="ml" x="624.6" y="258.6" textLength="24.0" lengthAdjust="spacing">酉阳县</text>
<text class="ml" x="635.0" y="286.8" textLength="24.0" lengthAdjust="spacing">秀山县</text>
<text class="ml" x="514.0" y="241.3" textLength="24.0" lengthAdjust="spacing">南川区</text>
<text class="ml" x="443.8" y="137.2" textLength="32.0" lengthAdjust="spacing">沙坪坝区</text>
<text class="ml" x="478.2" y="145.4" textLength="24.0" lengthAdjust="spacing">渝中区</text>
<text class="ml" x="420.8" y="171.6" textLength="24.0" lengthAdjust="spacing">潼南区</text>
<text class="ml" x="455.7" y="173.2" textLength="24.0" lengthAdjust="spacing">合川区</text>
<text class="ml" x="437.2" y="191.2" textLength="24.0" lengthAdjust="spacing">铜梁区</text>
<text class="ml" x="470.0" y="192.1" textLength="24.0" lengthAdjust="spacing">北碚区</text>
<text class="ml" x="493.8" y="190.9" textLength="24.0" lengthAdjust="spacing">渝北区</text>
<text class="ml" x="415.6" y="205.1" textLength="24.0" lengthAdjust="spacing">大足区</text>
<text class="ml" x="440.5" y="209.6" textLength="24.0" lengthAdjust="spacing">璧山区</text>
<text class="ml" x="398.2" y="219.7" textLength="24.0" lengthAdjust="spacing">荣昌区</text>
<text class="ml" x="487.3" y="215.6" textLength="24.0" lengthAdjust="spacing">南岸区</text>
<text class="ml" x="427.5" y="231.0" textLength="24.0" lengthAdjust="spacing">永川区</text>
<text class="ml" x="485.8" y="229.6" textLength="24.0" lengthAdjust="spacing">巴南区</text>
<text class="ml" x="447.0" y="247.5" textLength="24.0" lengthAdjust="spacing">江津区</text>
<text class="ml" x="487.5" y="260.7" textLength="24.0" lengthAdjust="spacing">綦江区</text>
<text class="ml" x="422.6" y="275.3" textLength="32.0" lengthAdjust="spacing">九龙坡区</text>
<text class="ml" x="460.3" y="291.7" textLength="32.0" lengthAdjust="spacing">大渡口区</text>
<text x="46.6" y="35.3" font-size="10.5" text-anchor="middle" fill="#111">N</text>
<polygon points="47.1,38.7 39.4,65 47.6,56.8" fill="#111"/>
<polygon points="47.1,38.7 54.2,65 47.6,56.8" fill="#fff" stroke="#111" stroke-width="0.5"/>
<rect x="21.3" y="95.8" width="51.7" height="3.6" fill="#fff" stroke="#222" stroke-width="0.6"/>
<rect x="21.3" y="95.8" width="26.3" height="3.6" fill="#111"/>
<text x="23.0" y="93" font-size="12" text-anchor="middle" fill="#111">0</text>
<text x="69.0" y="93" font-size="12" fill="#111" textLength="34.3" lengthAdjust="spacing">80 km</text>
<text x="415.6" y="35.3" font-size="10.5" text-anchor="middle" fill="#111">N</text>
<polygon points="416.1,38.7 408.4,65 416.6,56.8" fill="#111"/>
<polygon points="416.1,38.7 423.2,65 416.6,56.8" fill="#fff" stroke="#111" stroke-width="0.5"/>
<rect x="390.3" y="95.8" width="51.7" height="3.6" fill="#fff" stroke="#222" stroke-width="0.6"/>
<rect x="390.3" y="95.8" width="26.3" height="3.6" fill="#111"/>
<text x="390.0" y="93" font-size="12" text-anchor="middle" fill="#111">0</text>
<text x="434.4" y="93" font-size="12" fill="#111" textLength="34.3" lengthAdjust="spacing">80 km</text>
<text class="lg" x="243.7" y="181" textLength="112.3" lengthAdjust="spacing" font-size="11.3">综合热风险空间分布</text>
<rect x="288.4" y="190.6" width="21.3" height="10" fill="#f8e9e9" stroke="#666" stroke-width="0.6"/>
<text class="lg" x="316" y="199.8" textLength="23.6" lengthAdjust="spacing">极低</text>
<rect x="288.4" y="206.9" width="21.3" height="10" fill="#f0cbd0" stroke="#666" stroke-width="0.6"/>
<text class="lg" x="316" y="216.1" textLength="11.3" lengthAdjust="spacing">低</text>
<rect x="288.4" y="223.1" width="21.3" height="10" fill="#e2a0af" stroke="#666" stroke-width="0.6"/>
<text class="lg" x="316" y="232.3" textLength="23.6" lengthAdjust="spacing">较低</text>
<rect x="288.4" y="239.4" width="21.3" height="10" fill="#d15d77" stroke="#666" stroke-width="0.6"/>
<text class="lg" x="316" y="248.6" textLength="11.3" lengthAdjust="spacing">中</text>
<rect x="288.4" y="255.7" width="21.3" height="10" fill="#bd3047" stroke="#666" stroke-width="0.6"/>
<text class="lg" x="316" y="264.9" textLength="23.6" lengthAdjust="spacing">较高</text>
<rect x="288.4" y="271.9" width="21.3" height="10" fill="#a81823" stroke="#666" stroke-width="0.6"/>
<text class="lg" x="316" y="281.1" textLength="11.3" lengthAdjust="spacing">高</text>
<rect x="288.4" y="288.2" width="21.3" height="10" fill="#6b0d12" stroke="#666" stroke-width="0.6"/>
<text class="lg" x="316" y="297.4" textLength="23.6" lengthAdjust="spacing">极高</text>
<text x="334.8" y="319.5" font-size="12.5" fill="#333">7-1</text>
<text class="lg" x="673.7" y="225" textLength="113.5" lengthAdjust="spacing" font-size="11.3">综合热风险主导因子</text>
<rect x="676" y="237.7" width="21.7" height="10.1" fill="#eef4fb" stroke="#666" stroke-width="0.5"/>
<text class="lg" x="703.1" y="247.0" textLength="36.8" lengthAdjust="spacing">脆弱性</text>
<rect x="676" y="254.4" width="21.7" height="10.1" fill="#79a8c9" stroke="#666" stroke-width="0.5"/>
<text class="lg" x="703.1" y="263.8" textLength="84.0" lengthAdjust="spacing">危险性+脆弱性</text>
<rect x="676" y="271.2" width="21.7" height="10.1" fill="#396aa9" stroke="#666" stroke-width="0.5"/>
<text class="lg" x="703.1" y="280.5" textLength="36.8" lengthAdjust="spacing">危险性</text>
<rect x="676" y="287.9" width="21.7" height="10.1" fill="#20406b" stroke="#666" stroke-width="0.5"/>
<text class="lg" x="703.1" y="297.2" textLength="84.0" lengthAdjust="spacing">危险性+暴露度</text>
<text x="768" y="319.6" font-size="13" fill="#333">7-2</text>
<text x="780.3" y="333.2" font-size="13" fill="#333">7</text>
<path class="ln" d="M59,384 V548"/>
<polygon points="59,562.3 54,548.3 64,548.3" fill="#111"/>
<path class="ln" d="M119,578.7 H150"/>
<path class="ln" d="M150,459 H134.3 V700 H150"/>
<path class="ln" d="M329,459.0 H361"/>
<path class="ln" d="M329,578.7 H361"/>
<path class="ln" d="M329,700.0 H361"/>
<path class="ln" d="M375.6,384 V660" style="stroke-width:1.1;stroke:#222"/>
<path class="ln" d="M770,384 V660" style="stroke-width:1.1;stroke:#222"/>
<line x1="119.0" y1="368.8" x2="139.5" y2="368.8" stroke="#111" stroke-width="2.6"/>
<polygon points="149.5,368.8 135.0,363.2 138.0,368.8 135.0,374.4" fill="#111"/>
<line x1="329.5" y1="368.8" x2="350.0" y2="368.8" stroke="#111" stroke-width="2.6"/>
<polygon points="360.0,368.8 345.5,363.2 348.5,368.8 345.5,374.4" fill="#111"/>
<line x1="555.5" y1="368.8" x2="578.5" y2="368.8" stroke="#111" stroke-width="2.6"/>
<polygon points="588.5,368.8 574.0,363.2 577.0,368.8 574.0,374.4" fill="#111"/>
<rect class="gp" x="352.8" y="401.2" width="209.5" height="114.8"/>
<rect class="gp" x="581.6" y="401.2" width="209.6" height="114.8"/>
<rect class="gp" x="352.8" y="520.8" width="209.5" height="115.2"/>
<rect class="gp" x="581.6" y="520.8" width="209.6" height="115.2"/>
<rect class="gp" x="352.8" y="641.8" width="209.5" height="114.8"/>
<rect class="gp" x="581.6" y="641.8" width="209.6" height="114.8"/>
<rect class="bx" x="-2.0" y="355.4" width="120.4" height="28.6"/>
<rect x="-2.0" y="383.5" width="120.4" height="1" fill="#16264a"/>
<text class="bt" x="0.2" y="367" style="text-anchor:start" textLength="117.5" lengthAdjust="spacing">山地城市高温热浪风</text>
<text class="bt" x="59.5" y="379.5" textLength="38.9" lengthAdjust="spacing">险评估</text>
<rect class="bx" x="150.0" y="355.4" width="179.3" height="28.6"/>
<rect x="150.0" y="383.5" width="179.3" height="1" fill="#16264a"/>
<text class="bt" x="239.6" y="373.9" textLength="117.5" lengthAdjust="spacing">空间识别与应对策略</text>
<rect class="bx" x="360.3" y="355.4" width="194.8" height="28.6"/>
<rect x="360.3" y="383.5" width="194.8" height="1" fill="#16264a"/>
<text class="bt" x="457.6" y="373.9" textLength="52.0" lengthAdjust="spacing">局地优化</text>
<rect class="bx" x="589.0" y="355.4" width="195.3" height="28.6"/>
<rect x="589.0" y="383.5" width="195.3" height="1" fill="#16264a"/>
<text class="bt" x="687.0" y="373.9" textLength="52.0" lengthAdjust="spacing">区域互补</text>
<rect class="bx" x="-2.0" y="562.5" width="120.4" height="33.8"/>
<rect x="-2.0" y="595.8" width="120.4" height="1" fill="#16264a"/>
<text class="bt" x="0.2" y="576.5" style="text-anchor:start" textLength="117.5" lengthAdjust="spacing">较高、高和极高风险</text>
<text class="bt" x="59.5" y="589.1" textLength="78.2" lengthAdjust="spacing">等级区县分布</text>
<rect class="bx" x="150.0" y="441.8" width="179.3" height="33.3"/>
<rect x="150.0" y="474.6" width="179.3" height="1" fill="#16264a"/>
<text class="bt" x="239.6" y="463.0" textLength="143.7" lengthAdjust="spacing">危险性主导区域应对策略</text>
<rect class="bx" x="150.0" y="562.3" width="179.3" height="33.3"/>
<rect x="150.0" y="595.1" width="179.3" height="1" fill="#16264a"/>
<text class="bt" x="239.6" y="583.5" textLength="143.7" lengthAdjust="spacing">暴露度主导区域应对策略</text>
<rect class="bx" x="150.0" y="682.8" width="179.3" height="33.3"/>
<rect x="150.0" y="715.6" width="179.3" height="1" fill="#16264a"/>
<text class="bt" x="239.6" y="704.0" textLength="143.7" lengthAdjust="spacing">脆弱性主导区域应对策略</text>
<rect class="bx" x="360.4" y="412.6" width="29.0" height="92.8"/>
<rect x="360.4" y="504.9" width="29.0" height="1" fill="#16264a"/>
<text class="bt" x="374.9" y="427.2" font-size="12.5">降</text>
<text class="bt" x="374.9" y="445.7" font-size="12.5">低</text>
<text class="bt" x="374.9" y="463.8" font-size="12.5">危</text>
<text class="bt" x="374.9" y="481.4" font-size="12.5">险</text>
<text class="bt" x="374.9" y="498.8" font-size="12.5">性</text>
<rect class="bx" x="360.4" y="531.8" width="29.0" height="93.9"/>
<rect x="360.4" y="625.2" width="29.0" height="1" fill="#16264a"/>
<text class="bt" x="374.9" y="547.8" font-size="12.5">降</text>
<text class="bt" x="374.9" y="566.0" font-size="12.5">低</text>
<text class="bt" x="374.9" y="583.8" font-size="12.5">暴</text>
<text class="bt" x="374.9" y="601.2" font-size="12.5">露</text>
<text class="bt" x="374.9" y="618.1" font-size="12.5">度</text>
<rect class="bx" x="360.4" y="652.6" width="29.0" height="92.8"/>
<rect x="360.4" y="744.9" width="29.0" height="1" fill="#16264a"/>
<text class="bt" x="374.9" y="669.8" font-size="12.5">降</text>
<text class="bt" x="374.9" y="687.8" font-size="12.5">低</text>
<text class="bt" x="374.9" y="705.5" font-size="12.5">脆</text>
<text class="bt" x="374.9" y="723.2" font-size="12.5">弱</text>
<text class="bt" x="374.9" y="740.1" font-size="12.5">性</text>
<rect class="bx" x="755.4" y="412.6" width="29.3" height="92.5"/>
<rect x="755.4" y="504.6" width="29.3" height="1" fill="#16264a"/>
<text class="bt" x="770.0" y="437.2" font-size="12.5">低</text>
<text class="bt" x="770.0" y="454.7" font-size="12.5">危</text>
<text class="bt" x="770.0" y="472.3" font-size="12.5">险</text>
<text class="bt" x="770.0" y="490.2" font-size="12.5">区</text>
<rect class="bx" x="755.4" y="532.7" width="29.3" height="93.0"/>
<rect x="755.4" y="625.2" width="29.3" height="1" fill="#16264a"/>
<text class="bt" x="770.0" y="557.2" font-size="12.5">低</text>
<text class="bt" x="770.0" y="575.1" font-size="12.5">暴</text>
<text class="bt" x="770.0" y="592.8" font-size="12.5">露</text>
<text class="bt" x="770.0" y="610.5" font-size="12.5">区</text>
<rect class="bx" x="755.4" y="652.7" width="29.3" height="93.3"/>
<rect x="755.4" y="745.5" width="29.3" height="1" fill="#16264a"/>
<text class="bt" x="770.0" y="678.8" font-size="12.5">低</text>
<text class="bt" x="770.0" y="696.6" font-size="12.5">脆</text>
<text class="bt" x="770.0" y="714.5" font-size="12.5">弱</text>
<text class="bt" x="770.0" y="732.2" font-size="12.5">区</text>
<rect class="db" x="407" y="406.5" width="146.7" height="24"/>
<text class="dt" x="480.4" y="422.7" textLength="78.3" lengthAdjust="spacing">绿地系统规划</text>
<rect class="db" x="590.6" y="406.5" width="147.8" height="24"/>
<text class="dt" x="664.5" y="422.7" textLength="78.3" lengthAdjust="spacing">通风廊道引导</text>
<rect class="db" x="407" y="447.0" width="146.7" height="24"/>
<text class="dt" x="480.4" y="463.2" textLength="78.3" lengthAdjust="spacing">灾前预警系统</text>
<rect class="db" x="590.6" y="447.0" width="147.8" height="24"/>
<text class="dt" x="664.5" y="463.2" textLength="91.4" lengthAdjust="spacing">可再生能源挖掘</text>
<rect class="db" x="407" y="487.3" width="146.7" height="24"/>
<text class="dt" x="480.4" y="503.5" textLength="78.3" lengthAdjust="spacing">灾后应急机制</text>
<rect class="db" x="590.6" y="487.3" width="147.8" height="24"/>
<text class="dt" x="664.5" y="503.5" textLength="78.3" lengthAdjust="spacing">避暑产业开发</text>
<rect class="db" x="407" y="527.2" width="146.7" height="24"/>
<text class="dt" x="480.4" y="543.4" textLength="78.3" lengthAdjust="spacing">凉爽空间开放</text>
<rect class="db" x="590.6" y="527.2" width="147.8" height="24"/>
<text class="dt" x="664.5" y="543.4" textLength="78.3" lengthAdjust="spacing">疏解城市功能</text>
<rect class="db" x="407" y="567.0" width="146.7" height="24"/>
<text class="dt" x="480.4" y="583.2" textLength="78.3" lengthAdjust="spacing">凉爽城市建设</text>
<rect class="db" x="590.6" y="567.0" width="147.8" height="24"/>
<text class="dt" x="664.5" y="583.2" textLength="78.3" lengthAdjust="spacing">舒缓城市人口</text>
<rect class="db" x="407" y="606.7" width="146.7" height="24"/>
<text class="dt" x="480.4" y="622.9" textLength="78.3" lengthAdjust="spacing">凉爽社区营造</text>
<rect class="db" x="590.6" y="606.7" width="147.8" height="24"/>
<text class="dt" x="664.5" y="622.9" textLength="78.3" lengthAdjust="spacing">分解建设压力</text>
<rect class="db" x="407" y="646.8" width="146.7" height="24"/>
<text class="dt" x="480.4" y="663.0" textLength="78.3" lengthAdjust="spacing">增加社会保障</text>
<rect class="db" x="590.6" y="646.8" width="147.8" height="24"/>
<text class="dt" x="664.5" y="663.0" textLength="78.3" lengthAdjust="spacing">城郊医疗协助</text>
<rect class="db" x="407" y="687.2" width="146.7" height="24"/>
<text class="dt" x="480.4" y="703.4" textLength="78.3" lengthAdjust="spacing">健全补助机制</text>
<rect class="db" x="590.6" y="687.2" width="147.8" height="24"/>
<text class="dt" x="664.5" y="703.4" textLength="78.3" lengthAdjust="spacing">郊区养老产业</text>
<rect class="db" x="407" y="727.9" width="146.7" height="24"/>
<text class="dt" x="480.4" y="744.1" textLength="78.3" lengthAdjust="spacing">促进绿地公平</text>
<rect class="db" x="590.6" y="727.9" width="147.8" height="24"/>
<text class="dt" x="664.5" y="744.1" textLength="78.3" lengthAdjust="spacing">定点教育扶持</text>
<text x="778.6" y="773.8" font-size="13" fill="#333">8</text>
<text y="801" font-size="12.6" font-weight="300" fill="#555"><tspan x="-2.2">7</tspan><tspan x="11.9" style="letter-spacing:1.25px">高温热浪综合风险空间分布</tspan><tspan x="180.2">（</tspan><tspan x="196.3" style="letter-spacing:0.7px">7-1</tspan><tspan x="218.3">）</tspan><tspan x="230.6" style="letter-spacing:1.4px">及主导因子分布</tspan><tspan x="332.2">（</tspan><tspan x="345.3" style="letter-spacing:0.7px">7-2</tspan><tspan x="368.3">）</tspan></text>
<text y="801" font-size="12.8" font-weight="300" fill="#555"><tspan x="410.8">8</tspan><tspan x="421.6" style="letter-spacing:2.95px">山地城市高温热浪灾害应对策略框架图</tspan></text>
</svg></body></html>
